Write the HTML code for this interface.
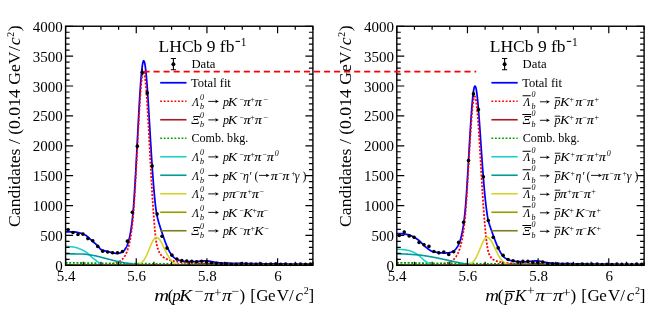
<!DOCTYPE html><html><head><meta charset="utf-8"><style>html,body{margin:0;padding:0;background:#fff;overflow:hidden}svg{display:block;will-change:transform}text{font-family:"Liberation Serif",serif;font-variant-ligatures:none}</style></head><body>
<svg width="661" height="320" viewBox="0 0 661 320">
<rect width="661" height="320" fill="#fff"/>
<clipPath id="clip65"><rect x="65.6" y="26.25" width="247.31" height="239.05"/></clipPath>
<g clip-path="url(#clip65)" fill="none">
<path d="M65.6,231.76 L65.95,231.78 L66.31,231.81 L66.66,231.82 L67.01,231.83 L67.37,231.84 L67.72,231.84 L68.07,231.85 L68.43,231.85 L68.78,231.85 L69.13,231.85 L69.49,231.85 L69.84,231.85 L70.19,231.85 L70.55,231.85 L70.9,231.86 L71.25,231.86 L71.61,231.86 L71.96,231.86 L72.31,231.86 L72.67,231.87 L73.02,231.87 L73.37,231.88 L73.73,231.89 L74.08,231.9 L74.43,231.92 L74.79,231.95 L75.14,231.99 L75.49,232.04 L75.85,232.1 L76.2,232.16 L76.55,232.23 L76.91,232.3 L77.26,232.37 L77.61,232.46 L77.97,232.54 L78.32,232.63 L78.67,232.71 L79.03,232.8 L79.38,232.89 L79.73,232.98 L80.09,233.07 L80.44,233.16 L80.79,233.26 L81.15,233.37 L81.5,233.47 L81.85,233.59 L82.21,233.71 L82.56,233.83 L82.91,233.97 L83.26,234.11 L83.62,234.26 L83.97,234.43 L84.32,234.59 L84.68,234.77 L85.03,234.96 L85.38,235.15 L85.74,235.36 L86.09,235.57 L86.44,235.8 L86.8,236.06 L87.15,236.33 L87.5,236.62 L87.86,236.92 L88.21,237.24 L88.56,237.56 L88.92,237.9 L89.27,238.24 L89.62,238.58 L89.98,238.93 L90.33,239.28 L90.68,239.62 L91.04,239.96 L91.39,240.29 L91.74,240.62 L92.1,240.93 L92.45,241.24 L92.8,241.54 L93.16,241.84 L93.51,242.14 L93.86,242.43 L94.22,242.73 L94.57,243.02 L94.92,243.32 L95.28,243.62 L95.63,243.93 L95.98,244.24 L96.34,244.55 L96.69,244.87 L97.04,245.2 L97.4,245.53 L97.75,245.87 L98.1,246.22 L98.46,246.59 L98.81,247.02 L99.16,247.47 L99.52,247.94 L99.87,248.4 L100.22,248.83 L100.58,249.23 L100.93,249.56 L101.28,249.81 L101.64,249.96 L101.99,250.06 L102.34,250.16 L102.7,250.25 L103.05,250.35 L103.4,250.45 L103.76,250.55 L104.11,250.64 L104.46,250.74 L104.82,250.84 L105.17,250.93 L105.52,251.02 L105.88,251.12 L106.23,251.21 L106.58,251.3 L106.94,251.39 L107.29,251.48 L107.64,251.57 L108,251.66 L108.35,251.75 L108.7,251.84 L109.06,251.93 L109.41,252.03 L109.76,252.12 L110.12,252.21 L110.47,252.29 L110.82,252.38 L111.18,252.47 L111.53,252.55 L111.88,252.63 L112.24,252.71 L112.59,252.79 L112.94,252.86 L113.3,252.94 L113.65,253 L114,253.06 L114.36,253.12 L114.71,253.17 L115.06,253.22 L115.42,253.26 L115.77,253.3 L116.12,253.32 L116.48,253.34 L116.83,253.35 L117.18,253.36 L117.54,253.35 L117.89,253.33 L118.24,253.3 L118.59,253.26 L118.95,253.21 L119.3,253.15 L119.65,253.07 L120.01,252.98 L120.36,252.87 L120.71,252.75 L121.07,252.61 L121.42,252.45 L121.77,252.27 L122.13,252.06 L122.48,251.84 L122.83,251.58 L123.19,251.3 L123.54,250.99 L123.89,250.64 L124.25,250.26 L124.6,249.84 L124.95,249.38 L125.31,248.87 L125.66,248.32 L126.01,247.71 L126.37,247.04 L126.72,246.31 L127.07,245.51 L127.43,244.63 L127.78,243.67 L128.13,242.63 L128.49,241.48 L128.84,240.23 L129.19,238.86 L129.55,237.37 L129.9,235.73 L130.25,233.94 L130.61,231.98 L130.96,229.84 L131.31,227.5 L131.67,224.93 L132.02,222.11 L132.37,219.02 L132.73,215.64 L133.08,211.91 L133.43,207.83 L133.79,203.33 L134.14,198.38 L134.49,192.93 L134.85,187.17 L135.2,181.17 L135.55,174.95 L135.91,168.55 L136.26,161.98 L136.61,155.29 L136.97,148.5 L137.32,141.66 L137.67,134.82 L138.03,128 L138.38,121.27 L138.73,114.67 L139.09,108.25 L139.44,102.05 L139.79,96.13 L140.15,90.54 L140.5,85.31 L140.85,80.5 L141.21,76.14 L141.56,72.27 L141.91,68.92 L142.27,66.13 L142.62,63.9 L142.97,62.27 L143.33,61.24 L143.68,60.82 L144.03,61.01 L144.39,61.79 L144.74,63.17 L145.09,65.11 L145.45,67.6 L145.8,70.6 L146.15,74.09 L146.51,78.03 L146.86,82.37 L147.21,87.07 L147.57,92.1 L147.92,97.39 L148.27,102.91 L148.63,108.61 L148.98,114.44 L149.33,120.36 L149.69,126.32 L150.04,132.28 L150.39,138.21 L150.75,144.06 L151.1,149.82 L151.45,155.44 L151.81,160.91 L152.16,166.2 L152.51,171.3 L152.87,176.2 L153.22,180.88 L153.57,185.34 L153.93,189.57 L154.28,193.58 L154.63,197.37 L154.98,200.94 L155.34,204.29 L155.69,207.43 L156.04,210.12 L156.4,212.4 L156.75,214.37 L157.1,216.11 L157.46,217.67 L157.81,219.11 L158.16,220.45 L158.52,221.72 L158.87,222.93 L159.22,224.1 L159.58,225.24 L159.93,226.36 L160.28,227.46 L160.64,228.55 L160.99,229.63 L161.34,230.7 L161.7,231.77 L162.05,232.82 L162.4,233.88 L162.76,234.92 L163.11,235.96 L163.46,236.99 L163.82,238 L164.17,239.01 L164.52,240 L164.88,240.97 L165.23,241.93 L165.58,242.87 L165.94,243.79 L166.29,244.69 L166.64,245.56 L167,246.41 L167.35,247.23 L167.7,248.03 L168.06,248.8 L168.41,249.54 L168.76,250.25 L169.12,250.94 L169.47,251.59 L169.82,252.22 L170.18,252.81 L170.53,253.38 L170.88,253.92 L171.24,254.43 L171.59,254.91 L171.94,255.37 L172.3,255.8 L172.65,256.2 L173,256.58 L173.36,256.94 L173.71,257.27 L174.06,257.58 L174.42,257.87 L174.77,258.14 L175.12,258.4 L175.48,258.63 L175.83,258.85 L176.18,259.06 L176.54,259.25 L176.89,259.42 L177.24,259.58 L177.6,259.74 L177.95,259.88 L178.3,260.01 L178.66,260.13 L179.01,260.24 L179.36,260.34 L179.72,260.44 L180.07,260.53 L180.42,260.61 L180.78,260.69 L181.13,260.76 L181.48,260.83 L181.84,260.9 L182.19,260.96 L182.54,261.01 L182.9,261.06 L183.25,261.12 L183.6,261.16 L183.96,261.21 L184.31,261.25 L184.66,261.29 L185.02,261.33 L185.37,261.36 L185.72,261.4 L186.08,261.43 L186.43,261.46 L186.78,261.49 L187.14,261.52 L187.49,261.55 L187.84,261.57 L188.2,261.6 L188.55,261.62 L188.9,261.64 L189.25,261.66 L189.61,261.68 L189.96,261.69 L190.31,261.71 L190.67,261.72 L191.02,261.73 L191.37,261.73 L191.73,261.74 L192.08,261.74 L192.43,261.74 L192.79,261.74 L193.14,261.74 L193.49,261.73 L193.85,261.72 L194.2,261.71 L194.55,261.7 L194.91,261.68 L195.26,261.66 L195.61,261.63 L195.97,261.61 L196.32,261.58 L196.67,261.55 L197.03,261.52 L197.38,261.48 L197.73,261.44 L198.09,261.4 L198.44,261.36 L198.79,261.32 L199.15,261.28 L199.5,261.23 L199.85,261.19 L200.21,261.15 L200.56,261.1 L200.91,261.06 L201.27,261.02 L201.62,260.98 L201.97,260.94 L202.33,260.91 L202.68,260.88 L203.03,260.85 L203.39,260.83 L203.74,260.81 L204.09,260.79 L204.45,260.78 L204.8,260.78 L205.15,260.78 L205.51,260.78 L205.86,260.79 L206.21,260.81 L206.57,260.83 L206.92,260.86 L207.27,260.89 L207.63,260.93 L207.98,260.97 L208.33,261.01 L208.69,261.06 L209.04,261.12 L209.39,261.18 L209.75,261.24 L210.1,261.3 L210.45,261.37 L210.81,261.43 L211.16,261.5 L211.51,261.57 L211.87,261.65 L212.22,261.72 L212.57,261.79 L212.93,261.86 L213.28,261.93 L213.63,262 L213.99,262.06 L214.34,262.13 L214.69,262.19 L215.05,262.26 L215.4,262.32 L215.75,262.37 L216.11,262.43 L216.46,262.48 L216.81,262.53 L217.17,262.58 L217.52,262.62 L217.87,262.67 L218.23,262.71 L218.58,262.74 L218.93,262.78 L219.29,262.81 L219.64,262.84 L219.99,262.87 L220.35,262.9 L220.7,262.92 L221.05,262.94 L221.41,262.97 L221.76,262.99 L222.11,263.01 L222.47,263.02 L222.82,263.04 L223.17,263.06 L223.53,263.07 L223.88,263.08 L224.23,263.1 L224.58,263.11 L224.94,263.12 L225.29,263.13 L225.64,263.14 L226,263.15 L226.35,263.16 L226.7,263.17 L227.06,263.18 L227.41,263.19 L227.76,263.2 L228.12,263.21 L228.47,263.21 L228.82,263.22 L229.18,263.23 L229.53,263.24 L229.88,263.24 L230.24,263.25 L230.59,263.26 L230.94,263.27 L231.3,263.27 L231.65,263.28 L232,263.29 L232.36,263.3 L232.71,263.3 L233.06,263.31 L233.42,263.32 L233.77,263.32 L234.12,263.33 L234.48,263.34 L234.83,263.34 L235.18,263.35 L235.54,263.36 L235.89,263.36 L236.24,263.37 L236.6,263.37 L236.95,263.38 L237.3,263.39 L237.66,263.39 L238.01,263.4 L238.36,263.41 L238.72,263.41 L239.07,263.42 L239.42,263.42 L239.78,263.43 L240.13,263.44 L240.48,263.44 L240.84,263.45 L241.19,263.45 L241.54,263.46 L241.9,263.46 L242.25,263.47 L242.6,263.48 L242.96,263.48 L243.31,263.49 L243.66,263.49 L244.02,263.5 L244.37,263.5 L244.72,263.51 L245.08,263.51 L245.43,263.52 L245.78,263.53 L246.14,263.53 L246.49,263.54 L246.84,263.54 L247.2,263.55 L247.55,263.55 L247.9,263.56 L248.26,263.56 L248.61,263.57 L248.96,263.57 L249.32,263.58 L249.67,263.58 L250.02,263.59 L250.38,263.59 L250.73,263.6 L251.08,263.6 L251.44,263.61 L251.79,263.61 L252.14,263.62 L252.5,263.62 L252.85,263.63 L253.2,263.63 L253.56,263.64 L253.91,263.64 L254.26,263.65 L254.62,263.65 L254.97,263.66 L255.32,263.66 L255.68,263.67 L256.03,263.67 L256.38,263.67 L256.74,263.68 L257.09,263.68 L257.44,263.69 L257.8,263.69 L258.15,263.7 L258.5,263.7 L258.86,263.71 L259.21,263.71 L259.56,263.71 L259.91,263.72 L260.27,263.72 L260.62,263.73 L260.97,263.73 L261.33,263.74 L261.68,263.74 L262.03,263.74 L262.39,263.75 L262.74,263.75 L263.09,263.76 L263.45,263.76 L263.8,263.77 L264.15,263.77 L264.51,263.77 L264.86,263.78 L265.21,263.78 L265.57,263.79 L265.92,263.79 L266.27,263.79 L266.63,263.8 L266.98,263.8 L267.33,263.81 L267.69,263.81 L268.04,263.81 L268.39,263.82 L268.75,263.82 L269.1,263.83 L269.45,263.83 L269.81,263.83 L270.16,263.84 L270.51,263.84 L270.87,263.84 L271.22,263.85 L271.57,263.85 L271.93,263.86 L272.28,263.86 L272.63,263.86 L272.99,263.87 L273.34,263.87 L273.69,263.87 L274.05,263.88 L274.4,263.88 L274.75,263.88 L275.11,263.89 L275.46,263.89 L275.81,263.9 L276.17,263.9 L276.52,263.9 L276.87,263.91 L277.23,263.91 L277.58,263.91 L277.93,263.92 L278.29,263.92 L278.64,263.92 L278.99,263.93 L279.35,263.93 L279.7,263.93 L280.05,263.94 L280.41,263.94 L280.76,263.94 L281.11,263.95 L281.47,263.95 L281.82,263.95 L282.17,263.96 L282.53,263.96 L282.88,263.96 L283.23,263.97 L283.59,263.97 L283.94,263.97 L284.29,263.98 L284.65,263.98 L285,263.98 L285.35,263.99 L285.71,263.99 L286.06,263.99 L286.41,264 L286.77,264 L287.12,264 L287.47,264 L287.83,264.01 L288.18,264.01 L288.53,264.01 L288.89,264.02 L289.24,264.02 L289.59,264.02 L289.95,264.03 L290.3,264.03 L290.65,264.03 L291.01,264.04 L291.36,264.04 L291.71,264.04 L292.07,264.04 L292.42,264.05 L292.77,264.05 L293.13,264.05 L293.48,264.06 L293.83,264.06 L294.19,264.06 L294.54,264.06 L294.89,264.07 L295.24,264.07 L295.6,264.07 L295.95,264.08 L296.3,264.08 L296.66,264.08 L297.01,264.08 L297.36,264.09 L297.72,264.09 L298.07,264.09 L298.42,264.1 L298.78,264.1 L299.13,264.1 L299.48,264.1 L299.84,264.11 L300.19,264.11 L300.54,264.11 L300.9,264.11 L301.25,264.12 L301.6,264.12 L301.96,264.12 L302.31,264.13 L302.66,264.13 L303.02,264.13 L303.37,264.13 L303.72,264.14 L304.08,264.14 L304.43,264.14 L304.78,264.14 L305.14,264.15 L305.49,264.15 L305.84,264.15 L306.2,264.15 L306.55,264.16 L306.9,264.16 L307.26,264.16 L307.61,264.16 L307.96,264.17 L308.32,264.17 L308.67,264.17 L309.02,264.17 L309.38,264.18 L309.73,264.18 L310.08,264.18 L310.44,264.18 L310.79,264.19 L311.14,264.19 L311.5,264.19 L311.85,264.19 L312.2,264.2 L312.56,264.2 L312.91,264.2" stroke="#0000ff" stroke-width="1.75"/>
<path d="M65.6,265.28 L65.95,265.28 L66.31,265.28 L66.66,265.28 L67.01,265.28 L67.37,265.28 L67.72,265.28 L68.07,265.28 L68.43,265.28 L68.78,265.28 L69.13,265.28 L69.49,265.28 L69.84,265.28 L70.19,265.28 L70.55,265.28 L70.9,265.28 L71.25,265.27 L71.61,265.27 L71.96,265.27 L72.31,265.27 L72.67,265.27 L73.02,265.27 L73.37,265.27 L73.73,265.27 L74.08,265.27 L74.43,265.27 L74.79,265.27 L75.14,265.27 L75.49,265.26 L75.85,265.26 L76.2,265.26 L76.55,265.26 L76.91,265.26 L77.26,265.26 L77.61,265.26 L77.97,265.26 L78.32,265.26 L78.67,265.26 L79.03,265.25 L79.38,265.25 L79.73,265.25 L80.09,265.25 L80.44,265.25 L80.79,265.25 L81.15,265.25 L81.5,265.24 L81.85,265.24 L82.21,265.24 L82.56,265.24 L82.91,265.24 L83.26,265.23 L83.62,265.23 L83.97,265.23 L84.32,265.23 L84.68,265.23 L85.03,265.22 L85.38,265.22 L85.74,265.22 L86.09,265.22 L86.44,265.21 L86.8,265.21 L87.15,265.21 L87.5,265.21 L87.86,265.2 L88.21,265.2 L88.56,265.2 L88.92,265.19 L89.27,265.19 L89.62,265.19 L89.98,265.18 L90.33,265.18 L90.68,265.17 L91.04,265.17 L91.39,265.17 L91.74,265.16 L92.1,265.16 L92.45,265.15 L92.8,265.15 L93.16,265.14 L93.51,265.14 L93.86,265.13 L94.22,265.12 L94.57,265.12 L94.92,265.11 L95.28,265.1 L95.63,265.1 L95.98,265.09 L96.34,265.08 L96.69,265.07 L97.04,265.07 L97.4,265.06 L97.75,265.05 L98.1,265.04 L98.46,265.03 L98.81,265.02 L99.16,265.01 L99.52,265 L99.87,264.99 L100.22,264.97 L100.58,264.96 L100.93,264.95 L101.28,264.93 L101.64,264.92 L101.99,264.9 L102.34,264.89 L102.7,264.87 L103.05,264.86 L103.4,264.84 L103.76,264.82 L104.11,264.8 L104.46,264.78 L104.82,264.76 L105.17,264.73 L105.52,264.71 L105.88,264.68 L106.23,264.66 L106.58,264.63 L106.94,264.6 L107.29,264.57 L107.64,264.54 L108,264.51 L108.35,264.47 L108.7,264.43 L109.06,264.4 L109.41,264.35 L109.76,264.31 L110.12,264.27 L110.47,264.22 L110.82,264.17 L111.18,264.11 L111.53,264.06 L111.88,264 L112.24,263.94 L112.59,263.87 L112.94,263.8 L113.3,263.73 L113.65,263.65 L114,263.57 L114.36,263.48 L114.71,263.39 L115.06,263.3 L115.42,263.19 L115.77,263.08 L116.12,262.97 L116.48,262.85 L116.83,262.72 L117.18,262.58 L117.54,262.43 L117.89,262.28 L118.24,262.12 L118.59,261.94 L118.95,261.75 L119.3,261.56 L119.65,261.35 L120.01,261.12 L120.36,260.88 L120.71,260.63 L121.07,260.35 L121.42,260.06 L121.77,259.75 L122.13,259.42 L122.48,259.06 L122.83,258.68 L123.19,258.28 L123.54,257.84 L123.89,257.37 L124.25,256.87 L124.6,256.33 L124.95,255.76 L125.31,255.14 L125.66,254.47 L126.01,253.75 L126.37,252.97 L126.72,252.14 L127.07,251.24 L127.43,250.26 L127.78,249.21 L128.13,248.08 L128.49,246.85 L128.84,245.51 L129.19,244.07 L129.55,242.5 L129.9,240.8 L130.25,238.96 L130.61,236.95 L130.96,234.76 L131.31,232.37 L131.67,229.77 L132.02,226.93 L132.37,223.83 L132.73,220.43 L133.08,216.71 L133.43,212.63 L133.79,208.16 L134.14,203.23 L134.49,197.83 L134.85,192.12 L135.2,186.18 L135.55,180.04 L135.91,173.72 L136.26,167.25 L136.61,160.67 L136.97,154.01 L137.32,147.31 L137.67,140.62 L138.03,133.97 L138.38,127.42 L138.73,121.02 L139.09,114.81 L139.44,108.84 L139.79,103.17 L140.15,97.84 L140.5,92.9 L140.85,88.38 L141.21,84.35 L141.56,80.82 L141.91,77.83 L142.27,75.42 L142.62,73.6 L142.97,72.4 L143.33,71.82 L143.68,71.87 L144.03,72.55 L144.39,73.85 L144.74,75.77 L145.09,78.27 L145.45,81.35 L145.8,84.96 L146.15,89.08 L146.51,93.66 L146.86,98.67 L147.21,104.06 L147.57,109.78 L147.92,115.79 L148.27,122.03 L148.63,128.46 L148.98,135.03 L149.33,141.69 L149.69,148.38 L150.04,155.08 L150.39,161.73 L150.75,168.3 L151.1,174.74 L151.45,181.03 L151.81,187.14 L152.16,193.05 L152.51,198.72 L152.87,204.15 L153.22,209.32 L153.57,214.22 L153.93,218.84 L154.28,223.18 L154.63,227.24 L154.98,231.02 L155.34,234.53 L155.69,237.75 L156.04,240.46 L156.4,242.68 L156.75,244.54 L157.1,246.12 L157.46,247.47 L157.81,248.65 L158.16,249.68 L158.52,250.59 L158.87,251.41 L159.22,252.13 L159.58,252.79 L159.93,253.38 L160.28,253.92 L160.64,254.42 L160.99,254.87 L161.34,255.29 L161.7,255.67 L162.05,256.03 L162.4,256.36 L162.76,256.67 L163.11,256.95 L163.46,257.22 L163.82,257.48 L164.17,257.71 L164.52,257.94 L164.88,258.15 L165.23,258.35 L165.58,258.53 L165.94,258.71 L166.29,258.88 L166.64,259.04 L167,259.2 L167.35,259.34 L167.7,259.48 L168.06,259.61 L168.41,259.74 L168.76,259.86 L169.12,259.98 L169.47,260.09 L169.82,260.2 L170.18,260.3 L170.53,260.4 L170.88,260.49 L171.24,260.58 L171.59,260.67 L171.94,260.76 L172.3,260.84 L172.65,260.92 L173,260.99 L173.36,261.06 L173.71,261.14 L174.06,261.2 L174.42,261.27 L174.77,261.34 L175.12,261.4 L175.48,261.46 L175.83,261.52 L176.18,261.57 L176.54,261.63 L176.89,261.68 L177.24,261.73 L177.6,261.78 L177.95,261.83 L178.3,261.88 L178.66,261.93 L179.01,261.97 L179.36,262.02 L179.72,262.06 L180.07,262.1 L180.42,262.14 L180.78,262.18 L181.13,262.22 L181.48,262.26 L181.84,262.3 L182.19,262.33 L182.54,262.37 L182.9,262.4 L183.25,262.43 L183.6,262.47 L183.96,262.5 L184.31,262.53 L184.66,262.56 L185.02,262.59 L185.37,262.62 L185.72,262.65 L186.08,262.68 L186.43,262.7 L186.78,262.73 L187.14,262.76 L187.49,262.78 L187.84,262.81 L188.2,262.83 L188.55,262.86 L188.9,262.88 L189.25,262.91 L189.61,262.93 L189.96,262.95 L190.31,262.97 L190.67,263 L191.02,263.02 L191.37,263.04 L191.73,263.06 L192.08,263.08 L192.43,263.1 L192.79,263.12 L193.14,263.14 L193.49,263.16 L193.85,263.17 L194.2,263.19 L194.55,263.21 L194.91,263.23 L195.26,263.24 L195.61,263.26 L195.97,263.28 L196.32,263.29 L196.67,263.31 L197.03,263.33 L197.38,263.34 L197.73,263.36 L198.09,263.37 L198.44,263.39 L198.79,263.4 L199.15,263.42 L199.5,263.43 L199.85,263.45 L200.21,263.46 L200.56,263.47 L200.91,263.49 L201.27,263.5 L201.62,263.51 L201.97,263.53 L202.33,263.54 L202.68,263.55 L203.03,263.56 L203.39,263.58 L203.74,263.59 L204.09,263.6 L204.45,263.61 L204.8,263.62 L205.15,263.63 L205.51,263.64 L205.86,263.66 L206.21,263.67 L206.57,263.68 L206.92,263.69 L207.27,263.7 L207.63,263.71 L207.98,263.72 L208.33,263.73 L208.69,263.74 L209.04,263.75 L209.39,263.76 L209.75,263.77 L210.1,263.78 L210.45,263.79 L210.81,263.8 L211.16,263.81 L211.51,263.81 L211.87,263.82 L212.22,263.83 L212.57,263.84 L212.93,263.85 L213.28,263.86 L213.63,263.87 L213.99,263.87 L214.34,263.88 L214.69,263.89 L215.05,263.9 L215.4,263.91 L215.75,263.91 L216.11,263.92 L216.46,263.93 L216.81,263.94 L217.17,263.95 L217.52,263.95 L217.87,263.96 L218.23,263.97 L218.58,263.97 L218.93,263.98 L219.29,263.99 L219.64,264 L219.99,264 L220.35,264.01 L220.7,264.02 L221.05,264.02 L221.41,264.03 L221.76,264.04 L222.11,264.04 L222.47,264.05 L222.82,264.06 L223.17,264.06 L223.53,264.07 L223.88,264.07 L224.23,264.08 L224.58,264.09 L224.94,264.09 L225.29,264.1 L225.64,264.1 L226,264.11 L226.35,264.12 L226.7,264.12 L227.06,264.13 L227.41,264.13 L227.76,264.14 L228.12,264.14 L228.47,264.15 L228.82,264.15 L229.18,264.16 L229.53,264.16 L229.88,264.17 L230.24,264.18 L230.59,264.18 L230.94,264.19 L231.3,264.19 L231.65,264.2 L232,264.2 L232.36,264.21 L232.71,264.21 L233.06,264.21 L233.42,264.22 L233.77,264.22 L234.12,264.23 L234.48,264.23 L234.83,264.24 L235.18,264.24 L235.54,264.25 L235.89,264.25 L236.24,264.26 L236.6,264.26 L236.95,264.27 L237.3,264.27 L237.66,264.27 L238.01,264.28 L238.36,264.28 L238.72,264.29 L239.07,264.29 L239.42,264.29 L239.78,264.3 L240.13,264.3 L240.48,264.31 L240.84,264.31 L241.19,264.32 L241.54,264.32 L241.9,264.32 L242.25,264.33 L242.6,264.33 L242.96,264.33 L243.31,264.34 L243.66,264.34 L244.02,264.35 L244.37,264.35 L244.72,264.35 L245.08,264.36 L245.43,264.36 L245.78,264.36 L246.14,264.37 L246.49,264.37 L246.84,264.37 L247.2,264.38 L247.55,264.38 L247.9,264.39 L248.26,264.39 L248.61,264.39 L248.96,264.4 L249.32,264.4 L249.67,264.4 L250.02,264.41 L250.38,264.41 L250.73,264.41 L251.08,264.41 L251.44,264.42 L251.79,264.42 L252.14,264.42 L252.5,264.43 L252.85,264.43 L253.2,264.43 L253.56,264.44 L253.91,264.44 L254.26,264.44 L254.62,264.45 L254.97,264.45 L255.32,264.45 L255.68,264.45 L256.03,264.46 L256.38,264.46 L256.74,264.46 L257.09,264.47 L257.44,264.47 L257.8,264.47 L258.15,264.47 L258.5,264.48 L258.86,264.48 L259.21,264.48 L259.56,264.49 L259.91,264.49 L260.27,264.49 L260.62,264.49 L260.97,264.5 L261.33,264.5 L261.68,264.5 L262.03,264.5 L262.39,264.51 L262.74,264.51 L263.09,264.51 L263.45,264.51 L263.8,264.52 L264.15,264.52 L264.51,264.52 L264.86,264.52 L265.21,264.53 L265.57,264.53 L265.92,264.53 L266.27,264.53 L266.63,264.54 L266.98,264.54 L267.33,264.54 L267.69,264.54 L268.04,264.55 L268.39,264.55 L268.75,264.55 L269.1,264.55 L269.45,264.56 L269.81,264.56 L270.16,264.56 L270.51,264.56 L270.87,264.56 L271.22,264.57 L271.57,264.57 L271.93,264.57 L272.28,264.57 L272.63,264.57 L272.99,264.58 L273.34,264.58 L273.69,264.58 L274.05,264.58 L274.4,264.59 L274.75,264.59 L275.11,264.59 L275.46,264.59 L275.81,264.59 L276.17,264.6 L276.52,264.6 L276.87,264.6 L277.23,264.6 L277.58,264.6 L277.93,264.61 L278.29,264.61 L278.64,264.61 L278.99,264.61 L279.35,264.61 L279.7,264.62 L280.05,264.62 L280.41,264.62 L280.76,264.62 L281.11,264.62 L281.47,264.63 L281.82,264.63 L282.17,264.63 L282.53,264.63 L282.88,264.63 L283.23,264.63 L283.59,264.64 L283.94,264.64 L284.29,264.64 L284.65,264.64 L285,264.64 L285.35,264.64 L285.71,264.65 L286.06,264.65 L286.41,264.65 L286.77,264.65 L287.12,264.65 L287.47,264.66 L287.83,264.66 L288.18,264.66 L288.53,264.66 L288.89,264.66 L289.24,264.66 L289.59,264.67 L289.95,264.67 L290.3,264.67 L290.65,264.67 L291.01,264.67 L291.36,264.67 L291.71,264.68 L292.07,264.68 L292.42,264.68 L292.77,264.68 L293.13,264.68 L293.48,264.68 L293.83,264.68 L294.19,264.69 L294.54,264.69 L294.89,264.69 L295.24,264.69 L295.6,264.69 L295.95,264.69 L296.3,264.7 L296.66,264.7 L297.01,264.7 L297.36,264.7 L297.72,264.7 L298.07,264.7 L298.42,264.7 L298.78,264.71 L299.13,264.71 L299.48,264.71 L299.84,264.71 L300.19,264.71 L300.54,264.71 L300.9,264.71 L301.25,264.72 L301.6,264.72 L301.96,264.72 L302.31,264.72 L302.66,264.72 L303.02,264.72 L303.37,264.72 L303.72,264.73 L304.08,264.73 L304.43,264.73 L304.78,264.73 L305.14,264.73 L305.49,264.73 L305.84,264.73 L306.2,264.73 L306.55,264.74 L306.9,264.74 L307.26,264.74 L307.61,264.74 L307.96,264.74 L308.32,264.74 L308.67,264.74 L309.02,264.74 L309.38,264.75 L309.73,264.75 L310.08,264.75 L310.44,264.75 L310.79,264.75 L311.14,264.75 L311.5,264.75 L311.85,264.75 L312.2,264.76 L312.56,264.76 L312.91,264.76" stroke="#ff0000" stroke-width="1.8" stroke-dasharray="2 1.6"/>
<path d="M187.49,265.27 L187.84,265.27 L188.2,265.26 L188.55,265.26 L188.9,265.25 L189.25,265.24 L189.61,265.23 L189.96,265.22 L190.31,265.21 L190.67,265.2 L191.02,265.18 L191.37,265.17 L191.73,265.15 L192.08,265.13 L192.43,265.11 L192.79,265.08 L193.14,265.06 L193.49,265.03 L193.85,265 L194.2,264.97 L194.55,264.93 L194.91,264.89 L195.26,264.85 L195.61,264.81 L195.97,264.77 L196.32,264.72 L196.67,264.67 L197.03,264.62 L197.38,264.56 L197.73,264.51 L198.09,264.45 L198.44,264.39 L198.79,264.33 L199.15,264.27 L199.5,264.21 L199.85,264.15 L200.21,264.09 L200.56,264.03 L200.91,263.98 L201.27,263.92 L201.62,263.86 L201.97,263.81 L202.33,263.76 L202.68,263.72 L203.03,263.68 L203.39,263.64 L203.74,263.6 L204.09,263.57 L204.45,263.55 L204.8,263.53 L205.15,263.52 L205.51,263.51 L205.86,263.51 L206.21,263.51 L206.57,263.52 L206.92,263.53 L207.27,263.55 L207.63,263.57 L207.98,263.6 L208.33,263.64 L208.69,263.68 L209.04,263.72 L209.39,263.76 L209.75,263.81 L210.1,263.86 L210.45,263.92 L210.81,263.98 L211.16,264.03 L211.51,264.09 L211.87,264.15 L212.22,264.21 L212.57,264.27 L212.93,264.33 L213.28,264.39 L213.63,264.45 L213.99,264.51 L214.34,264.56 L214.69,264.62 L215.05,264.67 L215.4,264.72 L215.75,264.77 L216.11,264.81 L216.46,264.85 L216.81,264.89 L217.17,264.93 L217.52,264.97 L217.87,265 L218.23,265.03 L218.58,265.06 L218.93,265.08 L219.29,265.11 L219.64,265.13 L219.99,265.15 L220.35,265.17 L220.7,265.18 L221.05,265.2 L221.41,265.21 L221.76,265.22 L222.11,265.23 L222.47,265.24 L222.82,265.25 L223.17,265.26 L223.53,265.26 L223.88,265.27 L224.23,265.27" stroke="#a81a20" stroke-width="1.6"/>
<path d="M65.6,262.79 L65.95,262.8 L66.31,262.8 L66.66,262.81 L67.01,262.81 L67.37,262.82 L67.72,262.82 L68.07,262.83 L68.43,262.83 L68.78,262.84 L69.13,262.84 L69.49,262.85 L69.84,262.85 L70.19,262.86 L70.55,262.86 L70.9,262.87 L71.25,262.87 L71.61,262.88 L71.96,262.89 L72.31,262.89 L72.67,262.9 L73.02,262.9 L73.37,262.91 L73.73,262.91 L74.08,262.92 L74.43,262.92 L74.79,262.93 L75.14,262.93 L75.49,262.94 L75.85,262.94 L76.2,262.95 L76.55,262.95 L76.91,262.96 L77.26,262.96 L77.61,262.97 L77.97,262.97 L78.32,262.98 L78.67,262.98 L79.03,262.99 L79.38,262.99 L79.73,263 L80.09,263 L80.44,263.01 L80.79,263.01 L81.15,263.02 L81.5,263.02 L81.85,263.03 L82.21,263.03 L82.56,263.04 L82.91,263.04 L83.26,263.05 L83.62,263.05 L83.97,263.06 L84.32,263.06 L84.68,263.07 L85.03,263.07 L85.38,263.07 L85.74,263.08 L86.09,263.08 L86.44,263.09 L86.8,263.09 L87.15,263.1 L87.5,263.1 L87.86,263.11 L88.21,263.11 L88.56,263.12 L88.92,263.12 L89.27,263.13 L89.62,263.13 L89.98,263.14 L90.33,263.14 L90.68,263.15 L91.04,263.15 L91.39,263.15 L91.74,263.16 L92.1,263.16 L92.45,263.17 L92.8,263.17 L93.16,263.18 L93.51,263.18 L93.86,263.19 L94.22,263.19 L94.57,263.2 L94.92,263.2 L95.28,263.2 L95.63,263.21 L95.98,263.21 L96.34,263.22 L96.69,263.22 L97.04,263.23 L97.4,263.23 L97.75,263.24 L98.1,263.24 L98.46,263.24 L98.81,263.25 L99.16,263.25 L99.52,263.26 L99.87,263.26 L100.22,263.27 L100.58,263.27 L100.93,263.28 L101.28,263.28 L101.64,263.28 L101.99,263.29 L102.34,263.29 L102.7,263.3 L103.05,263.3 L103.4,263.31 L103.76,263.31 L104.11,263.31 L104.46,263.32 L104.82,263.32 L105.17,263.33 L105.52,263.33 L105.88,263.34 L106.23,263.34 L106.58,263.34 L106.94,263.35 L107.29,263.35 L107.64,263.36 L108,263.36 L108.35,263.36 L108.7,263.37 L109.06,263.37 L109.41,263.38 L109.76,263.38 L110.12,263.39 L110.47,263.39 L110.82,263.39 L111.18,263.4 L111.53,263.4 L111.88,263.41 L112.24,263.41 L112.59,263.41 L112.94,263.42 L113.3,263.42 L113.65,263.43 L114,263.43 L114.36,263.43 L114.71,263.44 L115.06,263.44 L115.42,263.45 L115.77,263.45 L116.12,263.45 L116.48,263.46 L116.83,263.46 L117.18,263.47 L117.54,263.47 L117.89,263.47 L118.24,263.48 L118.59,263.48 L118.95,263.49 L119.3,263.49 L119.65,263.49 L120.01,263.5 L120.36,263.5 L120.71,263.51 L121.07,263.51 L121.42,263.51 L121.77,263.52 L122.13,263.52 L122.48,263.52 L122.83,263.53 L123.19,263.53 L123.54,263.54 L123.89,263.54 L124.25,263.54 L124.6,263.55 L124.95,263.55 L125.31,263.55 L125.66,263.56 L126.01,263.56 L126.37,263.57 L126.72,263.57 L127.07,263.57 L127.43,263.58 L127.78,263.58 L128.13,263.58 L128.49,263.59 L128.84,263.59 L129.19,263.6 L129.55,263.6 L129.9,263.6 L130.25,263.61 L130.61,263.61 L130.96,263.61 L131.31,263.62 L131.67,263.62 L132.02,263.62 L132.37,263.63 L132.73,263.63 L133.08,263.64 L133.43,263.64 L133.79,263.64 L134.14,263.65 L134.49,263.65 L134.85,263.65 L135.2,263.66 L135.55,263.66 L135.91,263.66 L136.26,263.67 L136.61,263.67 L136.97,263.67 L137.32,263.68 L137.67,263.68 L138.03,263.68 L138.38,263.69 L138.73,263.69 L139.09,263.7 L139.44,263.7 L139.79,263.7 L140.15,263.71 L140.5,263.71 L140.85,263.71 L141.21,263.72 L141.56,263.72 L141.91,263.72 L142.27,263.73 L142.62,263.73 L142.97,263.73 L143.33,263.74 L143.68,263.74 L144.03,263.74 L144.39,263.75 L144.74,263.75 L145.09,263.75 L145.45,263.76 L145.8,263.76 L146.15,263.76 L146.51,263.77 L146.86,263.77 L147.21,263.77 L147.57,263.78 L147.92,263.78 L148.27,263.78 L148.63,263.79 L148.98,263.79 L149.33,263.79 L149.69,263.8 L150.04,263.8 L150.39,263.8 L150.75,263.8 L151.1,263.81 L151.45,263.81 L151.81,263.81 L152.16,263.82 L152.51,263.82 L152.87,263.82 L153.22,263.83 L153.57,263.83 L153.93,263.83 L154.28,263.84 L154.63,263.84 L154.98,263.84 L155.34,263.85 L155.69,263.85 L156.04,263.85 L156.4,263.86 L156.75,263.86 L157.1,263.86 L157.46,263.86 L157.81,263.87 L158.16,263.87 L158.52,263.87 L158.87,263.88 L159.22,263.88 L159.58,263.88 L159.93,263.89 L160.28,263.89 L160.64,263.89 L160.99,263.9 L161.34,263.9 L161.7,263.9 L162.05,263.9 L162.4,263.91 L162.76,263.91 L163.11,263.91 L163.46,263.92 L163.82,263.92 L164.17,263.92 L164.52,263.93 L164.88,263.93 L165.23,263.93 L165.58,263.93 L165.94,263.94 L166.29,263.94 L166.64,263.94 L167,263.95 L167.35,263.95 L167.7,263.95 L168.06,263.95 L168.41,263.96 L168.76,263.96 L169.12,263.96 L169.47,263.97 L169.82,263.97 L170.18,263.97 L170.53,263.97 L170.88,263.98 L171.24,263.98 L171.59,263.98 L171.94,263.99 L172.3,263.99 L172.65,263.99 L173,263.99 L173.36,264 L173.71,264 L174.06,264 L174.42,264.01 L174.77,264.01 L175.12,264.01 L175.48,264.01 L175.83,264.02 L176.18,264.02 L176.54,264.02 L176.89,264.02 L177.24,264.03 L177.6,264.03 L177.95,264.03 L178.3,264.04 L178.66,264.04 L179.01,264.04 L179.36,264.04 L179.72,264.05 L180.07,264.05 L180.42,264.05 L180.78,264.05 L181.13,264.06 L181.48,264.06 L181.84,264.06 L182.19,264.07 L182.54,264.07 L182.9,264.07 L183.25,264.07 L183.6,264.08 L183.96,264.08 L184.31,264.08 L184.66,264.08 L185.02,264.09 L185.37,264.09 L185.72,264.09 L186.08,264.09 L186.43,264.1 L186.78,264.1 L187.14,264.1 L187.49,264.1 L187.84,264.11 L188.2,264.11 L188.55,264.11 L188.9,264.11 L189.25,264.12 L189.61,264.12 L189.96,264.12 L190.31,264.12 L190.67,264.13 L191.02,264.13 L191.37,264.13 L191.73,264.13 L192.08,264.14 L192.43,264.14 L192.79,264.14 L193.14,264.14 L193.49,264.15 L193.85,264.15 L194.2,264.15 L194.55,264.15 L194.91,264.16 L195.26,264.16 L195.61,264.16 L195.97,264.16 L196.32,264.17 L196.67,264.17 L197.03,264.17 L197.38,264.17 L197.73,264.18 L198.09,264.18 L198.44,264.18 L198.79,264.18 L199.15,264.19 L199.5,264.19 L199.85,264.19 L200.21,264.19 L200.56,264.2 L200.91,264.2 L201.27,264.2 L201.62,264.2 L201.97,264.21 L202.33,264.21 L202.68,264.21 L203.03,264.21 L203.39,264.21 L203.74,264.22 L204.09,264.22 L204.45,264.22 L204.8,264.22 L205.15,264.23 L205.51,264.23 L205.86,264.23 L206.21,264.23 L206.57,264.24 L206.92,264.24 L207.27,264.24 L207.63,264.24 L207.98,264.24 L208.33,264.25 L208.69,264.25 L209.04,264.25 L209.39,264.25 L209.75,264.26 L210.1,264.26 L210.45,264.26 L210.81,264.26 L211.16,264.26 L211.51,264.27 L211.87,264.27 L212.22,264.27 L212.57,264.27 L212.93,264.28 L213.28,264.28 L213.63,264.28 L213.99,264.28 L214.34,264.28 L214.69,264.29 L215.05,264.29 L215.4,264.29 L215.75,264.29 L216.11,264.3 L216.46,264.3 L216.81,264.3 L217.17,264.3 L217.52,264.3 L217.87,264.31 L218.23,264.31 L218.58,264.31 L218.93,264.31 L219.29,264.31 L219.64,264.32 L219.99,264.32 L220.35,264.32 L220.7,264.32 L221.05,264.33 L221.41,264.33 L221.76,264.33 L222.11,264.33 L222.47,264.33 L222.82,264.34 L223.17,264.34 L223.53,264.34 L223.88,264.34 L224.23,264.34 L224.58,264.35 L224.94,264.35 L225.29,264.35 L225.64,264.35 L226,264.35 L226.35,264.36 L226.7,264.36 L227.06,264.36 L227.41,264.36 L227.76,264.36 L228.12,264.37 L228.47,264.37 L228.82,264.37 L229.18,264.37 L229.53,264.37 L229.88,264.38 L230.24,264.38 L230.59,264.38 L230.94,264.38 L231.3,264.38 L231.65,264.39 L232,264.39 L232.36,264.39 L232.71,264.39 L233.06,264.39 L233.42,264.4 L233.77,264.4 L234.12,264.4 L234.48,264.4 L234.83,264.4 L235.18,264.41 L235.54,264.41 L235.89,264.41 L236.24,264.41 L236.6,264.41 L236.95,264.42 L237.3,264.42 L237.66,264.42 L238.01,264.42 L238.36,264.42 L238.72,264.42 L239.07,264.43 L239.42,264.43 L239.78,264.43 L240.13,264.43 L240.48,264.43 L240.84,264.44 L241.19,264.44 L241.54,264.44 L241.9,264.44 L242.25,264.44 L242.6,264.45 L242.96,264.45 L243.31,264.45 L243.66,264.45 L244.02,264.45 L244.37,264.45 L244.72,264.46 L245.08,264.46 L245.43,264.46 L245.78,264.46 L246.14,264.46 L246.49,264.47 L246.84,264.47 L247.2,264.47 L247.55,264.47 L247.9,264.47 L248.26,264.47 L248.61,264.48 L248.96,264.48 L249.32,264.48 L249.67,264.48 L250.02,264.48 L250.38,264.48 L250.73,264.49 L251.08,264.49 L251.44,264.49 L251.79,264.49 L252.14,264.49 L252.5,264.5 L252.85,264.5 L253.2,264.5 L253.56,264.5 L253.91,264.5 L254.26,264.5 L254.62,264.51 L254.97,264.51 L255.32,264.51 L255.68,264.51 L256.03,264.51 L256.38,264.51 L256.74,264.52 L257.09,264.52 L257.44,264.52 L257.8,264.52 L258.15,264.52 L258.5,264.52 L258.86,264.53 L259.21,264.53 L259.56,264.53 L259.91,264.53 L260.27,264.53 L260.62,264.53 L260.97,264.54 L261.33,264.54 L261.68,264.54 L262.03,264.54 L262.39,264.54 L262.74,264.54 L263.09,264.55 L263.45,264.55 L263.8,264.55 L264.15,264.55 L264.51,264.55 L264.86,264.55 L265.21,264.56 L265.57,264.56 L265.92,264.56 L266.27,264.56 L266.63,264.56 L266.98,264.56 L267.33,264.56 L267.69,264.57 L268.04,264.57 L268.39,264.57 L268.75,264.57 L269.1,264.57 L269.45,264.57 L269.81,264.58 L270.16,264.58 L270.51,264.58 L270.87,264.58 L271.22,264.58 L271.57,264.58 L271.93,264.58 L272.28,264.59 L272.63,264.59 L272.99,264.59 L273.34,264.59 L273.69,264.59 L274.05,264.59 L274.4,264.6 L274.75,264.6 L275.11,264.6 L275.46,264.6 L275.81,264.6 L276.17,264.6 L276.52,264.6 L276.87,264.61 L277.23,264.61 L277.58,264.61 L277.93,264.61 L278.29,264.61 L278.64,264.61 L278.99,264.61 L279.35,264.62 L279.7,264.62 L280.05,264.62 L280.41,264.62 L280.76,264.62 L281.11,264.62 L281.47,264.63 L281.82,264.63 L282.17,264.63 L282.53,264.63 L282.88,264.63 L283.23,264.63 L283.59,264.63 L283.94,264.64 L284.29,264.64 L284.65,264.64 L285,264.64 L285.35,264.64 L285.71,264.64 L286.06,264.64 L286.41,264.65 L286.77,264.65 L287.12,264.65 L287.47,264.65 L287.83,264.65 L288.18,264.65 L288.53,264.65 L288.89,264.66 L289.24,264.66 L289.59,264.66 L289.95,264.66 L290.3,264.66 L290.65,264.66 L291.01,264.66 L291.36,264.66 L291.71,264.67 L292.07,264.67 L292.42,264.67 L292.77,264.67 L293.13,264.67 L293.48,264.67 L293.83,264.67 L294.19,264.68 L294.54,264.68 L294.89,264.68 L295.24,264.68 L295.6,264.68 L295.95,264.68 L296.3,264.68 L296.66,264.68 L297.01,264.69 L297.36,264.69 L297.72,264.69 L298.07,264.69 L298.42,264.69 L298.78,264.69 L299.13,264.69 L299.48,264.7 L299.84,264.7 L300.19,264.7 L300.54,264.7 L300.9,264.7 L301.25,264.7 L301.6,264.7 L301.96,264.7 L302.31,264.71 L302.66,264.71 L303.02,264.71 L303.37,264.71 L303.72,264.71 L304.08,264.71 L304.43,264.71 L304.78,264.71 L305.14,264.72 L305.49,264.72 L305.84,264.72 L306.2,264.72 L306.55,264.72 L306.9,264.72 L307.26,264.72 L307.61,264.72 L307.96,264.73 L308.32,264.73 L308.67,264.73 L309.02,264.73 L309.38,264.73 L309.73,264.73 L310.08,264.73 L310.44,264.73 L310.79,264.74 L311.14,264.74 L311.5,264.74 L311.85,264.74 L312.2,264.74 L312.56,264.74 L312.91,264.74" stroke="#00a000" stroke-width="1.8" stroke-dasharray="2 1.6"/>
<path d="M65.6,246.42 L65.95,246.43 L66.31,246.45 L66.66,246.47 L67.01,246.5 L67.37,246.52 L67.72,246.54 L68.07,246.56 L68.43,246.59 L68.78,246.61 L69.13,246.63 L69.49,246.66 L69.84,246.68 L70.19,246.71 L70.55,246.73 L70.9,246.76 L71.25,246.79 L71.61,246.82 L71.96,246.86 L72.31,246.89 L72.67,246.93 L73.02,246.97 L73.37,247.01 L73.73,247.06 L74.08,247.11 L74.43,247.17 L74.79,247.24 L75.14,247.32 L75.49,247.41 L75.85,247.5 L76.2,247.61 L76.55,247.72 L76.91,247.83 L77.26,247.96 L77.61,248.08 L77.97,248.21 L78.32,248.34 L78.67,248.48 L79.03,248.61 L79.38,248.75 L79.73,248.88 L80.09,249.02 L80.44,249.16 L80.79,249.31 L81.15,249.46 L81.5,249.61 L81.85,249.78 L82.21,249.94 L82.56,250.11 L82.91,250.29 L83.26,250.47 L83.62,250.66 L83.97,250.85 L84.32,251.05 L84.68,251.25 L85.03,251.46 L85.38,251.68 L85.74,251.9 L86.09,252.13 L86.44,252.37 L86.8,252.64 L87.15,252.92 L87.5,253.21 L87.86,253.52 L88.21,253.84 L88.56,254.16 L88.92,254.5 L89.27,254.83 L89.62,255.17 L89.98,255.51 L90.33,255.85 L90.68,256.18 L91.04,256.51 L91.39,256.83 L91.74,257.14 L92.1,257.44 L92.45,257.73 L92.8,258.02 L93.16,258.3 L93.51,258.58 L93.86,258.85 L94.22,259.13 L94.57,259.4 L94.92,259.67 L95.28,259.94 L95.63,260.21 L95.98,260.49 L96.34,260.76 L96.69,261.03 L97.04,261.31 L97.4,261.59 L97.75,261.88 L98.1,262.16 L98.46,262.48 L98.81,262.84 L99.16,263.22 L99.52,263.62 L99.87,264.01 L100.22,264.37 L100.58,264.69 L100.93,264.94 L101.28,265.11 L101.64,265.18 L101.99,265.19 L102.34,265.21 L102.7,265.22 L103.05,265.23 L103.4,265.24 L103.76,265.25 L104.11,265.26 L104.46,265.27 L104.82,265.27" stroke="#20d0d0" stroke-width="1.6"/>
<path d="M65.6,253.77 L65.95,253.79 L66.31,253.81 L66.66,253.83 L67.01,253.83 L67.37,253.84 L67.72,253.85 L68.07,253.86 L68.43,253.86 L68.78,253.87 L69.13,253.87 L69.49,253.88 L69.84,253.88 L70.19,253.89 L70.55,253.89 L70.9,253.89 L71.25,253.9 L71.61,253.9 L71.96,253.9 L72.31,253.91 L72.67,253.91 L73.02,253.91 L73.37,253.91 L73.73,253.91 L74.08,253.92 L74.43,253.92 L74.79,253.92 L75.14,253.92 L75.49,253.93 L75.85,253.93 L76.2,253.93 L76.55,253.93 L76.91,253.93 L77.26,253.94 L77.61,253.94 L77.97,253.94 L78.32,253.95 L78.67,253.95 L79.03,253.95 L79.38,253.96 L79.73,253.96 L80.09,253.97 L80.44,253.97 L80.79,253.98 L81.15,253.99 L81.5,253.99 L81.85,254 L82.21,254.01 L82.56,254.02 L82.91,254.03 L83.26,254.05 L83.62,254.07 L83.97,254.1 L84.32,254.13 L84.68,254.16 L85.03,254.19 L85.38,254.23 L85.74,254.27 L86.09,254.31 L86.44,254.35 L86.8,254.4 L87.15,254.44 L87.5,254.49 L87.86,254.54 L88.21,254.6 L88.56,254.65 L88.92,254.71 L89.27,254.76 L89.62,254.82 L89.98,254.88 L90.33,254.94 L90.68,255 L91.04,255.06 L91.39,255.13 L91.74,255.19 L92.1,255.25 L92.45,255.31 L92.8,255.38 L93.16,255.44 L93.51,255.5 L93.86,255.56 L94.22,255.62 L94.57,255.69 L94.92,255.75 L95.28,255.82 L95.63,255.89 L95.98,255.97 L96.34,256.04 L96.69,256.12 L97.04,256.2 L97.4,256.29 L97.75,256.37 L98.1,256.46 L98.46,256.54 L98.81,256.63 L99.16,256.72 L99.52,256.81 L99.87,256.91 L100.22,257 L100.58,257.1 L100.93,257.19 L101.28,257.29 L101.64,257.38 L101.99,257.48 L102.34,257.57 L102.7,257.67 L103.05,257.77 L103.4,257.86 L103.76,257.96 L104.11,258.05 L104.46,258.14 L104.82,258.24 L105.17,258.33 L105.52,258.42 L105.88,258.51 L106.23,258.6 L106.58,258.69 L106.94,258.77 L107.29,258.86 L107.64,258.95 L108,259.04 L108.35,259.13 L108.7,259.23 L109.06,259.32 L109.41,259.41 L109.76,259.5 L110.12,259.59 L110.47,259.69 L110.82,259.78 L111.18,259.87 L111.53,259.96 L111.88,260.05 L112.24,260.14 L112.59,260.23 L112.94,260.32 L113.3,260.41 L113.65,260.5 L114,260.59 L114.36,260.68 L114.71,260.77 L115.06,260.85 L115.42,260.94 L115.77,261.02 L116.12,261.1 L116.48,261.18 L116.83,261.26 L117.18,261.34 L117.54,261.42 L117.89,261.49 L118.24,261.57 L118.59,261.64 L118.95,261.71 L119.3,261.78 L119.65,261.85 L120.01,261.92 L120.36,261.99 L120.71,262.06 L121.07,262.13 L121.42,262.2 L121.77,262.27 L122.13,262.34 L122.48,262.4 L122.83,262.47 L123.19,262.54 L123.54,262.6 L123.89,262.67 L124.25,262.73 L124.6,262.79 L124.95,262.86 L125.31,262.92 L125.66,262.98 L126.01,263.04 L126.37,263.1 L126.72,263.15 L127.07,263.21 L127.43,263.26 L127.78,263.32 L128.13,263.37 L128.49,263.42 L128.84,263.47 L129.19,263.52 L129.55,263.57 L129.9,263.62 L130.25,263.66 L130.61,263.7 L130.96,263.75 L131.31,263.79 L131.67,263.83 L132.02,263.87 L132.37,263.91 L132.73,263.94 L133.08,263.98 L133.43,264.02 L133.79,264.05 L134.14,264.08 L134.49,264.12 L134.85,264.15 L135.2,264.18 L135.55,264.21 L135.91,264.24 L136.26,264.27 L136.61,264.29 L136.97,264.32 L137.32,264.35 L137.67,264.38 L138.03,264.41 L138.38,264.43 L138.73,264.46 L139.09,264.49 L139.44,264.52 L139.79,264.54 L140.15,264.57 L140.5,264.6 L140.85,264.63 L141.21,264.65 L141.56,264.68 L141.91,264.7 L142.27,264.73 L142.62,264.75 L142.97,264.78 L143.33,264.8 L143.68,264.83 L144.03,264.85 L144.39,264.87 L144.74,264.89 L145.09,264.91 L145.45,264.93 L145.8,264.95 L146.15,264.97 L146.51,264.99 L146.86,265.01 L147.21,265.02 L147.57,265.04 L147.92,265.05 L148.27,265.07 L148.63,265.08 L148.98,265.09 L149.33,265.1 L149.69,265.11 L150.04,265.11 L150.39,265.12 L150.75,265.13 L151.1,265.13 L151.45,265.14 L151.81,265.14 L152.16,265.15 L152.51,265.15 L152.87,265.16 L153.22,265.16 L153.57,265.17 L153.93,265.17 L154.28,265.18 L154.63,265.18 L154.98,265.19 L155.34,265.19 L155.69,265.2 L156.04,265.2 L156.4,265.2 L156.75,265.21 L157.1,265.21 L157.46,265.22 L157.81,265.22 L158.16,265.22 L158.52,265.23 L158.87,265.23 L159.22,265.24 L159.58,265.24 L159.93,265.24 L160.28,265.25 L160.64,265.25 L160.99,265.25 L161.34,265.25 L161.7,265.26 L162.05,265.26 L162.4,265.26 L162.76,265.27 L163.11,265.27 L163.46,265.27" stroke="#009a9a" stroke-width="1.6"/>
<path d="M65.6,265.3 L65.95,265.3 L66.31,265.3 L66.66,265.3 L67.01,265.3 L67.37,265.3 L67.72,265.3 L68.07,265.3 L68.43,265.3 L68.78,265.3 L69.13,265.3 L69.49,265.3 L69.84,265.3 L70.19,265.3 L70.55,265.3 L70.9,265.3 L71.25,265.3 L71.61,265.3 L71.96,265.3 L72.31,265.3 L72.67,265.3 L73.02,265.3 L73.37,265.3 L73.73,265.3 L74.08,265.3 L74.43,265.3 L74.79,265.3 L75.14,265.3 L75.49,265.3 L75.85,265.3 L76.2,265.3 L76.55,265.3 L76.91,265.3 L77.26,265.3 L77.61,265.3 L77.97,265.3 L78.32,265.3 L78.67,265.3 L79.03,265.3 L79.38,265.3 L79.73,265.3 L80.09,265.3 L80.44,265.3 L80.79,265.3 L81.15,265.3 L81.5,265.3 L81.85,265.3 L82.21,265.3 L82.56,265.3 L82.91,265.3 L83.26,265.3 L83.62,265.3 L83.97,265.3 L84.32,265.3 L84.68,265.3 L85.03,265.3 L85.38,265.3 L85.74,265.3 L86.09,265.3 L86.44,265.3 L86.8,265.3 L87.15,265.3 L87.5,265.3 L87.86,265.3 L88.21,265.3 L88.56,265.3 L88.92,265.3 L89.27,265.3 L89.62,265.3 L89.98,265.3 L90.33,265.3 L90.68,265.3 L91.04,265.3 L91.39,265.3 L91.74,265.3 L92.1,265.3 L92.45,265.3 L92.8,265.3 L93.16,265.3 L93.51,265.3 L93.86,265.3 L94.22,265.3 L94.57,265.3 L94.92,265.3 L95.28,265.3 L95.63,265.3 L95.98,265.3 L96.34,265.3 L96.69,265.3 L97.04,265.3 L97.4,265.3 L97.75,265.3 L98.1,265.3 L98.46,265.3 L98.81,265.3 L99.16,265.3 L99.52,265.3 L99.87,265.3 L100.22,265.3 L100.58,265.3 L100.93,265.3 L101.28,265.3 L101.64,265.3 L101.99,265.3 L102.34,265.3 L102.7,265.3 L103.05,265.3 L103.4,265.3 L103.76,265.3 L104.11,265.3 L104.46,265.3 L104.82,265.3 L105.17,265.3 L105.52,265.3 L105.88,265.3 L106.23,265.3 L106.58,265.3 L106.94,265.3 L107.29,265.3 L107.64,265.3 L108,265.3 L108.35,265.3 L108.7,265.3 L109.06,265.3 L109.41,265.3 L109.76,265.3 L110.12,265.3 L110.47,265.3 L110.82,265.3 L111.18,265.3 L111.53,265.3 L111.88,265.3 L112.24,265.3 L112.59,265.3 L112.94,265.3 L113.3,265.3 L113.65,265.3 L114,265.3 L114.36,265.3 L114.71,265.3 L115.06,265.3 L115.42,265.3 L115.77,265.3 L116.12,265.3 L116.48,265.3 L116.83,265.3 L117.18,265.3 L117.54,265.3 L117.89,265.3 L118.24,265.3 L118.59,265.3 L118.95,265.3 L119.3,265.3 L119.65,265.3 L120.01,265.3 L120.36,265.3 L120.71,265.3 L121.07,265.3 L121.42,265.3 L121.77,265.3 L122.13,265.3 L122.48,265.3 L122.83,265.3 L123.19,265.3 L123.54,265.3 L123.89,265.3 L124.25,265.3 L124.6,265.3 L124.95,265.3 L125.31,265.3 L125.66,265.3 L126.01,265.3 L126.37,265.3 L126.72,265.3 L127.07,265.3 L127.43,265.3 L127.78,265.29 L128.13,265.29 L128.49,265.29 L128.84,265.29 L129.19,265.29 L129.55,265.29 L129.9,265.28 L130.25,265.28 L130.61,265.27 L130.96,265.27 L131.31,265.26 L131.67,265.26 L132.02,265.25 L132.37,265.24 L132.73,265.22 L133.08,265.21 L133.43,265.19 L133.79,265.17 L134.14,265.15 L134.49,265.12 L134.85,265.09 L135.2,265.05 L135.55,265.01 L135.91,264.97 L136.26,264.91 L136.61,264.85 L136.97,264.78 L137.32,264.7 L137.67,264.61 L138.03,264.5 L138.38,264.39 L138.73,264.26 L139.09,264.11 L139.44,263.95 L139.79,263.77 L140.15,263.57 L140.5,263.35 L140.85,263.11 L141.21,262.85 L141.56,262.56 L141.91,262.24 L142.27,261.9 L142.62,261.52 L142.97,261.12 L143.33,260.69 L143.68,260.22 L144.03,259.73 L144.39,259.2 L144.74,258.63 L145.09,258.04 L145.45,257.41 L145.8,256.75 L146.15,256.06 L146.51,255.35 L146.86,254.6 L147.21,253.83 L147.57,253.03 L147.92,252.21 L148.27,251.38 L148.63,250.53 L148.98,249.67 L149.33,248.81 L149.69,247.94 L150.04,247.07 L150.39,246.21 L150.75,245.37 L151.1,244.54 L151.45,243.73 L151.81,242.95 L152.16,242.21 L152.51,241.5 L152.87,240.83 L153.22,240.21 L153.57,239.64 L153.93,239.13 L154.28,238.68 L154.63,238.29 L154.98,237.97 L155.34,237.72 L155.69,237.54 L156.04,237.43 L156.4,237.39 L156.75,237.42 L157.1,237.5 L157.46,237.64 L157.81,237.83 L158.16,238.08 L158.52,238.37 L158.87,238.72 L159.22,239.11 L159.58,239.55 L159.93,240.03 L160.28,240.55 L160.64,241.11 L160.99,241.71 L161.34,242.33 L161.7,242.99 L162.05,243.66 L162.4,244.36 L162.76,245.08 L163.11,245.81 L163.46,246.55 L163.82,247.3 L164.17,248.05 L164.52,248.81 L164.88,249.56 L165.23,250.31 L165.58,251.05 L165.94,251.78 L166.29,252.5 L166.64,253.21 L167,253.89 L167.35,254.57 L167.7,255.22 L168.06,255.85 L168.41,256.46 L168.76,257.04 L169.12,257.61 L169.47,258.15 L169.82,258.66 L170.18,259.15 L170.53,259.61 L170.88,260.05 L171.24,260.47 L171.59,260.86 L171.94,261.23 L172.3,261.57 L172.65,261.9 L173,262.2 L173.36,262.48 L173.71,262.74 L174.06,262.98 L174.42,263.2 L174.77,263.4 L175.12,263.59 L175.48,263.76 L175.83,263.92 L176.18,264.07 L176.54,264.2 L176.89,264.32 L177.24,264.42 L177.6,264.52 L177.95,264.61 L178.3,264.69 L178.66,264.76 L179.01,264.82 L179.36,264.88 L179.72,264.93 L180.07,264.98 L180.42,265.02 L180.78,265.05 L181.13,265.09 L181.48,265.11 L181.84,265.14 L182.19,265.16 L182.54,265.18 L182.9,265.2 L183.25,265.21 L183.6,265.22 L183.96,265.23 L184.31,265.24 L184.66,265.25 L185.02,265.26 L185.37,265.27 L185.72,265.27 L186.08,265.27 L186.43,265.28 L186.78,265.28 L187.14,265.28 L187.49,265.29 L187.84,265.29 L188.2,265.29 L188.55,265.29 L188.9,265.29 L189.25,265.29 L189.61,265.3 L189.96,265.3 L190.31,265.3 L190.67,265.3 L191.02,265.3 L191.37,265.3 L191.73,265.3 L192.08,265.3 L192.43,265.3 L192.79,265.3 L193.14,265.3 L193.49,265.3 L193.85,265.3 L194.2,265.3 L194.55,265.3 L194.91,265.3 L195.26,265.3 L195.61,265.3 L195.97,265.3 L196.32,265.3 L196.67,265.3 L197.03,265.3 L197.38,265.3 L197.73,265.3 L198.09,265.3 L198.44,265.3 L198.79,265.3 L199.15,265.3 L199.5,265.3 L199.85,265.3 L200.21,265.3 L200.56,265.3 L200.91,265.3 L201.27,265.3 L201.62,265.3 L201.97,265.3 L202.33,265.3 L202.68,265.3 L203.03,265.3 L203.39,265.3 L203.74,265.3 L204.09,265.3 L204.45,265.3 L204.8,265.3 L205.15,265.3 L205.51,265.3 L205.86,265.3 L206.21,265.3 L206.57,265.3 L206.92,265.3 L207.27,265.3 L207.63,265.3 L207.98,265.3 L208.33,265.3 L208.69,265.3 L209.04,265.3 L209.39,265.3 L209.75,265.3 L210.1,265.3 L210.45,265.3 L210.81,265.3 L211.16,265.3 L211.51,265.3 L211.87,265.3 L212.22,265.3 L212.57,265.3 L212.93,265.3 L213.28,265.3 L213.63,265.3 L213.99,265.3 L214.34,265.3 L214.69,265.3 L215.05,265.3 L215.4,265.3 L215.75,265.3 L216.11,265.3 L216.46,265.3 L216.81,265.3 L217.17,265.3 L217.52,265.3 L217.87,265.3 L218.23,265.3 L218.58,265.3 L218.93,265.3 L219.29,265.3 L219.64,265.3 L219.99,265.3 L220.35,265.3 L220.7,265.3 L221.05,265.3 L221.41,265.3 L221.76,265.3 L222.11,265.3 L222.47,265.3 L222.82,265.3 L223.17,265.3 L223.53,265.3 L223.88,265.3 L224.23,265.3 L224.58,265.3 L224.94,265.3 L225.29,265.3 L225.64,265.3 L226,265.3 L226.35,265.3 L226.7,265.3 L227.06,265.3 L227.41,265.3 L227.76,265.3 L228.12,265.3 L228.47,265.3 L228.82,265.3 L229.18,265.3 L229.53,265.3 L229.88,265.3 L230.24,265.3 L230.59,265.3 L230.94,265.3 L231.3,265.3 L231.65,265.3 L232,265.3 L232.36,265.3 L232.71,265.3 L233.06,265.3 L233.42,265.3 L233.77,265.3 L234.12,265.3 L234.48,265.3 L234.83,265.3 L235.18,265.3 L235.54,265.3 L235.89,265.3 L236.24,265.3 L236.6,265.3 L236.95,265.3 L237.3,265.3 L237.66,265.3 L238.01,265.3 L238.36,265.3 L238.72,265.3 L239.07,265.3 L239.42,265.3 L239.78,265.3 L240.13,265.3 L240.48,265.3 L240.84,265.3 L241.19,265.3 L241.54,265.3 L241.9,265.3 L242.25,265.3 L242.6,265.3 L242.96,265.3 L243.31,265.3 L243.66,265.3 L244.02,265.3 L244.37,265.3 L244.72,265.3 L245.08,265.3 L245.43,265.3 L245.78,265.3 L246.14,265.3 L246.49,265.3 L246.84,265.3 L247.2,265.3 L247.55,265.3 L247.9,265.3 L248.26,265.3 L248.61,265.3 L248.96,265.3 L249.32,265.3 L249.67,265.3 L250.02,265.3 L250.38,265.3 L250.73,265.3 L251.08,265.3 L251.44,265.3 L251.79,265.3 L252.14,265.3 L252.5,265.3 L252.85,265.3 L253.2,265.3 L253.56,265.3 L253.91,265.3 L254.26,265.3 L254.62,265.3 L254.97,265.3 L255.32,265.3 L255.68,265.3 L256.03,265.3 L256.38,265.3 L256.74,265.3 L257.09,265.3 L257.44,265.3 L257.8,265.3 L258.15,265.3 L258.5,265.3 L258.86,265.3 L259.21,265.3 L259.56,265.3 L259.91,265.3 L260.27,265.3 L260.62,265.3 L260.97,265.3 L261.33,265.3 L261.68,265.3 L262.03,265.3 L262.39,265.3 L262.74,265.3 L263.09,265.3 L263.45,265.3 L263.8,265.3 L264.15,265.3 L264.51,265.3 L264.86,265.3 L265.21,265.3 L265.57,265.3 L265.92,265.3 L266.27,265.3 L266.63,265.3 L266.98,265.3 L267.33,265.3 L267.69,265.3 L268.04,265.3 L268.39,265.3 L268.75,265.3 L269.1,265.3 L269.45,265.3 L269.81,265.3 L270.16,265.3 L270.51,265.3 L270.87,265.3 L271.22,265.3 L271.57,265.3 L271.93,265.3 L272.28,265.3 L272.63,265.3 L272.99,265.3 L273.34,265.3 L273.69,265.3 L274.05,265.3 L274.4,265.3 L274.75,265.3 L275.11,265.3 L275.46,265.3 L275.81,265.3 L276.17,265.3 L276.52,265.3 L276.87,265.3 L277.23,265.3 L277.58,265.3 L277.93,265.3 L278.29,265.3 L278.64,265.3 L278.99,265.3 L279.35,265.3 L279.7,265.3 L280.05,265.3 L280.41,265.3 L280.76,265.3 L281.11,265.3 L281.47,265.3 L281.82,265.3 L282.17,265.3 L282.53,265.3 L282.88,265.3 L283.23,265.3 L283.59,265.3 L283.94,265.3 L284.29,265.3 L284.65,265.3 L285,265.3 L285.35,265.3 L285.71,265.3 L286.06,265.3 L286.41,265.3 L286.77,265.3 L287.12,265.3 L287.47,265.3 L287.83,265.3 L288.18,265.3 L288.53,265.3 L288.89,265.3 L289.24,265.3 L289.59,265.3 L289.95,265.3 L290.3,265.3 L290.65,265.3 L291.01,265.3 L291.36,265.3 L291.71,265.3 L292.07,265.3 L292.42,265.3 L292.77,265.3 L293.13,265.3 L293.48,265.3 L293.83,265.3 L294.19,265.3 L294.54,265.3 L294.89,265.3 L295.24,265.3 L295.6,265.3 L295.95,265.3 L296.3,265.3 L296.66,265.3 L297.01,265.3 L297.36,265.3 L297.72,265.3 L298.07,265.3 L298.42,265.3 L298.78,265.3 L299.13,265.3 L299.48,265.3 L299.84,265.3 L300.19,265.3 L300.54,265.3 L300.9,265.3 L301.25,265.3 L301.6,265.3 L301.96,265.3 L302.31,265.3 L302.66,265.3 L303.02,265.3 L303.37,265.3 L303.72,265.3 L304.08,265.3 L304.43,265.3 L304.78,265.3 L305.14,265.3 L305.49,265.3 L305.84,265.3 L306.2,265.3 L306.55,265.3 L306.9,265.3 L307.26,265.3 L307.61,265.3 L307.96,265.3 L308.32,265.3 L308.67,265.3 L309.02,265.3 L309.38,265.3 L309.73,265.3 L310.08,265.3 L310.44,265.3 L310.79,265.3 L311.14,265.3 L311.5,265.3 L311.85,265.3 L312.2,265.3 L312.56,265.3 L312.91,265.3" stroke="#d4d42a" stroke-width="1.6"/>
<path d="M65.6,264.8H312.91" stroke="#999900" stroke-width="1.4"/>
<path d="M65.6,264.8H312.91" stroke="#7f7f22" stroke-width="1.4"/>
</g>
<g fill="#000" stroke="#000" stroke-width="1"><line x1="68.07" y1="228.34" x2="68.07" y2="231.26"/><circle cx="68.07" cy="229.8" r="1.8" stroke="none"/><line x1="73.02" y1="231.03" x2="73.02" y2="233.83"/><circle cx="73.02" cy="232.43" r="1.8" stroke="none"/><line x1="77.97" y1="233.11" x2="77.97" y2="235.82"/><circle cx="77.97" cy="234.46" r="1.8" stroke="none"/><line x1="82.91" y1="232.74" x2="82.91" y2="235.47"/><circle cx="82.91" cy="234.1" r="1.8" stroke="none"/><line x1="87.86" y1="237.32" x2="87.86" y2="239.85"/><circle cx="87.86" cy="238.59" r="1.8" stroke="none"/><line x1="92.8" y1="239.46" x2="92.8" y2="241.89"/><circle cx="92.8" cy="240.68" r="1.8" stroke="none"/><line x1="97.75" y1="245.35" x2="97.75" y2="247.48"/><circle cx="97.75" cy="246.42" r="1.8" stroke="none"/><circle cx="102.7" cy="251.14" r="1.8" stroke="none"/><circle cx="107.64" cy="252.03" r="1.8" stroke="none"/><circle cx="112.59" cy="252.81" r="1.8" stroke="none"/><circle cx="117.54" cy="252.81" r="1.8" stroke="none"/><circle cx="122.48" cy="251.44" r="1.8" stroke="none"/><line x1="127.43" y1="239.95" x2="127.43" y2="242.36"/><circle cx="127.43" cy="241.16" r="1.8" stroke="none"/><line x1="132.37" y1="210.57" x2="132.37" y2="214.13"/><circle cx="132.37" cy="212.35" r="1.8" stroke="none"/><line x1="137.32" y1="143.46" x2="137.32" y2="148.8"/><circle cx="137.32" cy="146.13" r="1.8" stroke="none"/><line x1="142.27" y1="68.87" x2="142.27" y2="75.66"/><circle cx="142.27" cy="72.27" r="1.8" stroke="none"/><line x1="147.21" y1="89.68" x2="147.21" y2="96.1"/><circle cx="147.21" cy="92.89" r="1.8" stroke="none"/><line x1="152.16" y1="163.66" x2="152.16" y2="168.53"/><circle cx="152.16" cy="166.09" r="1.8" stroke="none"/><line x1="157.1" y1="212.33" x2="157.1" y2="215.83"/><circle cx="157.1" cy="214.08" r="1.8" stroke="none"/><line x1="162.05" y1="235" x2="162.05" y2="237.63"/><circle cx="162.05" cy="236.32" r="1.8" stroke="none"/><line x1="167" y1="247.07" x2="167" y2="249.1"/><circle cx="167" cy="248.09" r="1.8" stroke="none"/><circle cx="171.94" cy="255.14" r="1.8" stroke="none"/><circle cx="176.89" cy="259.02" r="1.8" stroke="none"/><circle cx="181.84" cy="260.64" r="1.8" stroke="none"/><circle cx="186.78" cy="261" r="1.8" stroke="none"/><circle cx="191.73" cy="261.24" r="1.8" stroke="none"/><circle cx="196.67" cy="261.83" r="1.8" stroke="none"/><circle cx="201.62" cy="261.24" r="1.8" stroke="none"/><circle cx="206.57" cy="261.83" r="1.8" stroke="none"/><circle cx="211.51" cy="262.79" r="1.8" stroke="none"/><circle cx="216.46" cy="263.33" r="1.8" stroke="none"/><circle cx="221.41" cy="263.81" r="1.8" stroke="none"/><circle cx="226.35" cy="263.81" r="1.8" stroke="none"/><circle cx="231.3" cy="264.22" r="1.8" stroke="none"/><circle cx="236.24" cy="264.4" r="1.8" stroke="none"/><circle cx="241.19" cy="263.81" r="1.8" stroke="none"/><circle cx="246.14" cy="263.69" r="1.8" stroke="none"/><circle cx="251.08" cy="264.1" r="1.8" stroke="none"/><circle cx="256.03" cy="264.22" r="1.8" stroke="none"/><circle cx="260.97" cy="263.99" r="1.8" stroke="none"/><circle cx="265.92" cy="264.4" r="1.8" stroke="none"/><circle cx="270.87" cy="264.1" r="1.8" stroke="none"/><circle cx="275.81" cy="263.81" r="1.8" stroke="none"/><circle cx="280.76" cy="264.28" r="1.8" stroke="none"/><circle cx="285.71" cy="264.1" r="1.8" stroke="none"/><circle cx="290.65" cy="264.46" r="1.8" stroke="none"/><circle cx="295.6" cy="264.22" r="1.8" stroke="none"/><circle cx="300.54" cy="263.99" r="1.8" stroke="none"/><circle cx="305.49" cy="264.34" r="1.8" stroke="none"/><circle cx="310.44" cy="264.16" r="1.8" stroke="none"/></g>
<path d="M65.6,265.3h7.5M312.91,265.3h-7.5M65.6,259.32h4M312.91,259.32h-4M65.6,253.35h4M312.91,253.35h-4M65.6,247.37h4M312.91,247.37h-4M65.6,241.4h4M312.91,241.4h-4M65.6,235.42h7.5M312.91,235.42h-7.5M65.6,229.44h4M312.91,229.44h-4M65.6,223.47h4M312.91,223.47h-4M65.6,217.49h4M312.91,217.49h-4M65.6,211.51h4M312.91,211.51h-4M65.6,205.54h7.5M312.91,205.54h-7.5M65.6,199.56h4M312.91,199.56h-4M65.6,193.59h4M312.91,193.59h-4M65.6,187.61h4M312.91,187.61h-4M65.6,181.63h4M312.91,181.63h-4M65.6,175.66h7.5M312.91,175.66h-7.5M65.6,169.68h4M312.91,169.68h-4M65.6,163.7h4M312.91,163.7h-4M65.6,157.73h4M312.91,157.73h-4M65.6,151.75h4M312.91,151.75h-4M65.6,145.78h7.5M312.91,145.78h-7.5M65.6,139.8h4M312.91,139.8h-4M65.6,133.82h4M312.91,133.82h-4M65.6,127.85h4M312.91,127.85h-4M65.6,121.87h4M312.91,121.87h-4M65.6,115.89h7.5M312.91,115.89h-7.5M65.6,109.92h4M312.91,109.92h-4M65.6,103.94h4M312.91,103.94h-4M65.6,97.97h4M312.91,97.97h-4M65.6,91.99h4M312.91,91.99h-4M65.6,86.01h7.5M312.91,86.01h-7.5M65.6,80.04h4M312.91,80.04h-4M65.6,74.06h4M312.91,74.06h-4M65.6,68.08h4M312.91,68.08h-4M65.6,62.11h4M312.91,62.11h-4M65.6,56.13h7.5M312.91,56.13h-7.5M65.6,50.16h4M312.91,50.16h-4M65.6,44.18h4M312.91,44.18h-4M65.6,38.2h4M312.91,38.2h-4M65.6,32.23h4M312.91,32.23h-4M65.6,26.25h7.5M312.91,26.25h-7.5M65.6,265.3v-7M65.6,26.25v7M83.26,265.3v-3.5M83.26,26.25v3.5M100.93,265.3v-3.5M100.93,26.25v3.5M118.6,265.3v-3.5M118.6,26.25v3.5M136.26,265.3v-7M136.26,26.25v7M153.93,265.3v-3.5M153.93,26.25v3.5M171.59,265.3v-3.5M171.59,26.25v3.5M189.25,265.3v-3.5M189.25,26.25v3.5M206.92,265.3v-7M206.92,26.25v7M224.59,265.3v-3.5M224.59,26.25v3.5M242.25,265.3v-3.5M242.25,26.25v3.5M259.91,265.3v-3.5M259.91,26.25v3.5M277.58,265.3v-7M277.58,26.25v7M295.25,265.3v-3.5M295.25,26.25v3.5M312.91,265.3v-3.5M312.91,26.25v3.5" stroke="#000" stroke-width="1.2" fill="none"/>
<rect x="65.6" y="26.25" width="247.31" height="239.05" stroke="#000" stroke-width="1.4" fill="none"/>
<g font-size="15" fill="#000"><text x="62.8" y="270.9" text-anchor="end">0</text><text x="62.8" y="241.02" text-anchor="end">500</text><text x="62.8" y="211.14" text-anchor="end">1000</text><text x="62.8" y="181.26" text-anchor="end">1500</text><text x="62.8" y="151.38" text-anchor="end">2000</text><text x="62.8" y="121.49" text-anchor="end">2500</text><text x="62.8" y="91.61" text-anchor="end">3000</text><text x="62.8" y="61.73" text-anchor="end">3500</text><text x="62.8" y="31.85" text-anchor="end">4000</text><text x="66" y="281.3" text-anchor="middle">5.4</text><text x="136.66" y="281.3" text-anchor="middle">5.6</text><text x="207.32" y="281.3" text-anchor="middle">5.8</text><text x="277.98" y="281.3" text-anchor="middle">6</text></g>
<clipPath id="clip396"><rect x="396.8" y="26.25" width="247.31" height="239.05"/></clipPath>
<g clip-path="url(#clip396)" fill="none">
<path d="M396.8,233.54 L397.15,233.53 L397.51,233.53 L397.86,233.53 L398.21,233.53 L398.57,233.54 L398.92,233.55 L399.27,233.56 L399.63,233.58 L399.98,233.6 L400.33,233.62 L400.69,233.65 L401.04,233.67 L401.39,233.7 L401.75,233.74 L402.1,233.77 L402.45,233.81 L402.81,233.85 L403.16,233.89 L403.51,233.93 L403.87,233.98 L404.22,234.03 L404.57,234.08 L404.93,234.13 L405.28,234.18 L405.63,234.24 L405.99,234.29 L406.34,234.35 L406.69,234.41 L407.05,234.47 L407.4,234.54 L407.75,234.61 L408.11,234.7 L408.46,234.8 L408.81,234.91 L409.17,235.02 L409.52,235.14 L409.87,235.27 L410.23,235.4 L410.58,235.54 L410.93,235.69 L411.29,235.83 L411.64,235.99 L411.99,236.14 L412.35,236.3 L412.7,236.46 L413.05,236.62 L413.41,236.79 L413.76,236.98 L414.11,237.17 L414.46,237.37 L414.82,237.57 L415.17,237.79 L415.52,238.02 L415.88,238.25 L416.23,238.49 L416.58,238.73 L416.94,238.99 L417.29,239.24 L417.64,239.5 L418,239.76 L418.35,240.03 L418.7,240.3 L419.06,240.57 L419.41,240.86 L419.76,241.17 L420.12,241.49 L420.47,241.83 L420.82,242.18 L421.18,242.54 L421.53,242.9 L421.88,243.28 L422.24,243.65 L422.59,244.03 L422.94,244.4 L423.3,244.77 L423.65,245.13 L424,245.49 L424.36,245.83 L424.71,246.16 L425.06,246.47 L425.42,246.77 L425.77,247.07 L426.12,247.36 L426.48,247.65 L426.83,247.94 L427.18,248.21 L427.54,248.49 L427.89,248.76 L428.24,249.02 L428.6,249.27 L428.95,249.52 L429.3,249.76 L429.66,249.98 L430.01,250.21 L430.36,250.44 L430.72,250.67 L431.07,250.9 L431.42,251.12 L431.78,251.32 L432.13,251.49 L432.48,251.63 L432.84,251.72 L433.19,251.78 L433.54,251.84 L433.9,251.89 L434.25,251.95 L434.6,252.01 L434.96,252.07 L435.31,252.12 L435.66,252.17 L436.02,252.23 L436.37,252.28 L436.72,252.33 L437.08,252.38 L437.43,252.43 L437.78,252.47 L438.14,252.52 L438.49,252.56 L438.84,252.6 L439.2,252.64 L439.55,252.68 L439.9,252.72 L440.26,252.75 L440.61,252.79 L440.96,252.82 L441.32,252.85 L441.67,252.87 L442.02,252.9 L442.38,252.92 L442.73,252.94 L443.08,252.96 L443.44,252.98 L443.79,252.99 L444.14,253 L444.5,253.01 L444.85,253.01 L445.2,253.01 L445.56,253.01 L445.91,253 L446.26,252.99 L446.62,252.98 L446.97,252.96 L447.32,252.93 L447.68,252.9 L448.03,252.86 L448.38,252.82 L448.74,252.77 L449.09,252.71 L449.44,252.64 L449.79,252.56 L450.15,252.48 L450.5,252.38 L450.85,252.27 L451.21,252.15 L451.56,252.02 L451.91,251.87 L452.27,251.71 L452.62,251.53 L452.97,251.33 L453.33,251.12 L453.68,250.88 L454.03,250.63 L454.39,250.35 L454.74,250.05 L455.09,249.72 L455.45,249.36 L455.8,248.97 L456.15,248.55 L456.51,248.1 L456.86,247.61 L457.21,247.08 L457.57,246.5 L457.92,245.88 L458.27,245.2 L458.63,244.47 L458.98,243.67 L459.33,242.81 L459.69,241.87 L460.04,240.85 L460.39,239.75 L460.75,238.54 L461.1,237.24 L461.45,235.82 L461.81,234.27 L462.16,232.58 L462.51,230.75 L462.87,228.75 L463.22,226.56 L463.57,224.18 L463.93,221.58 L464.28,218.74 L464.63,215.63 L464.99,212.22 L465.34,208.5 L465.69,204.41 L466.05,199.94 L466.4,195.02 L466.75,189.68 L467.11,184.11 L467.46,178.36 L467.81,172.48 L468.17,166.49 L468.52,160.42 L468.87,154.31 L469.23,148.21 L469.58,142.15 L469.93,136.19 L470.29,130.36 L470.64,124.71 L470.99,119.29 L471.35,114.15 L471.7,109.33 L472.05,104.87 L472.41,100.81 L472.76,97.19 L473.11,94.04 L473.47,91.39 L473.82,89.25 L474.17,87.65 L474.53,86.61 L474.88,86.11 L475.23,86.17 L475.59,86.78 L475.94,87.93 L476.29,89.59 L476.65,91.76 L477,94.39 L477.35,97.46 L477.71,100.93 L478.06,104.77 L478.41,108.93 L478.77,113.37 L479.12,118.05 L479.47,122.91 L479.83,127.93 L480.18,133.05 L480.53,138.24 L480.89,143.44 L481.24,148.64 L481.59,153.78 L481.95,158.85 L482.3,163.81 L482.65,168.64 L483.01,173.32 L483.36,177.83 L483.71,182.16 L484.07,186.3 L484.42,190.25 L484.77,193.99 L485.12,197.54 L485.48,200.88 L485.83,204.03 L486.18,207 L486.54,209.79 L486.89,212.4 L487.24,214.86 L487.6,217.08 L487.95,218.94 L488.3,220.52 L488.66,221.92 L489.01,223.18 L489.36,224.36 L489.72,225.47 L490.07,226.53 L490.42,227.56 L490.78,228.58 L491.13,229.57 L491.48,230.56 L491.84,231.55 L492.19,232.53 L492.54,233.51 L492.9,234.48 L493.25,235.46 L493.6,236.43 L493.96,237.39 L494.31,238.36 L494.66,239.31 L495.02,240.25 L495.37,241.19 L495.72,242.11 L496.08,243.01 L496.43,243.9 L496.78,244.77 L497.14,245.62 L497.49,246.45 L497.84,247.26 L498.2,248.04 L498.55,248.8 L498.9,249.53 L499.26,250.23 L499.61,250.91 L499.96,251.56 L500.32,252.18 L500.67,252.77 L501.02,253.33 L501.38,253.87 L501.73,254.38 L502.08,254.86 L502.44,255.32 L502.79,255.75 L503.14,256.15 L503.5,256.54 L503.85,256.89 L504.2,257.23 L504.56,257.54 L504.91,257.83 L505.26,258.11 L505.62,258.36 L505.97,258.6 L506.32,258.82 L506.68,259.03 L507.03,259.22 L507.38,259.39 L507.74,259.56 L508.09,259.71 L508.44,259.85 L508.8,259.98 L509.15,260.1 L509.5,260.21 L509.86,260.32 L510.21,260.42 L510.56,260.51 L510.92,260.59 L511.27,260.67 L511.62,260.74 L511.98,260.81 L512.33,260.88 L512.68,260.94 L513.04,260.99 L513.39,261.05 L513.74,261.1 L514.1,261.15 L514.45,261.19 L514.8,261.23 L515.16,261.28 L515.51,261.32 L515.86,261.35 L516.22,261.39 L516.57,261.42 L516.92,261.46 L517.28,261.49 L517.63,261.52 L517.98,261.55 L518.34,261.58 L518.69,261.6 L519.04,261.63 L519.4,261.65 L519.75,261.68 L520.1,261.7 L520.45,261.72 L520.81,261.73 L521.16,261.75 L521.51,261.77 L521.87,261.78 L522.22,261.79 L522.57,261.8 L522.93,261.81 L523.28,261.81 L523.63,261.81 L523.99,261.81 L524.34,261.81 L524.69,261.81 L525.05,261.8 L525.4,261.79 L525.75,261.78 L526.11,261.76 L526.46,261.74 L526.81,261.72 L527.17,261.7 L527.52,261.67 L527.87,261.64 L528.23,261.61 L528.58,261.58 L528.93,261.55 L529.29,261.51 L529.64,261.47 L529.99,261.43 L530.35,261.39 L530.7,261.35 L531.05,261.31 L531.41,261.27 L531.76,261.23 L532.11,261.19 L532.47,261.15 L532.82,261.11 L533.17,261.08 L533.53,261.05 L533.88,261.02 L534.23,260.99 L534.59,260.97 L534.94,260.96 L535.29,260.94 L535.65,260.94 L536,260.93 L536.35,260.94 L536.71,260.94 L537.06,260.96 L537.41,260.98 L537.77,261 L538.12,261.03 L538.47,261.06 L538.83,261.1 L539.18,261.15 L539.53,261.2 L539.89,261.25 L540.24,261.31 L540.59,261.37 L540.95,261.43 L541.3,261.5 L541.65,261.56 L542.01,261.63 L542.36,261.71 L542.71,261.78 L543.07,261.85 L543.42,261.93 L543.77,262 L544.13,262.07 L544.48,262.14 L544.83,262.22 L545.19,262.29 L545.54,262.35 L545.89,262.42 L546.25,262.48 L546.6,262.55 L546.95,262.6 L547.31,262.66 L547.66,262.72 L548.01,262.77 L548.37,262.82 L548.72,262.86 L549.07,262.91 L549.43,262.95 L549.78,262.99 L550.13,263.03 L550.49,263.06 L550.84,263.09 L551.19,263.12 L551.55,263.15 L551.9,263.18 L552.25,263.2 L552.61,263.23 L552.96,263.25 L553.31,263.27 L553.67,263.29 L554.02,263.31 L554.37,263.32 L554.73,263.34 L555.08,263.36 L555.43,263.37 L555.78,263.38 L556.14,263.4 L556.49,263.41 L556.84,263.42 L557.2,263.43 L557.55,263.44 L557.9,263.45 L558.26,263.46 L558.61,263.47 L558.96,263.48 L559.32,263.49 L559.67,263.5 L560.02,263.51 L560.38,263.52 L560.73,263.53 L561.08,263.54 L561.44,263.55 L561.79,263.55 L562.14,263.56 L562.5,263.57 L562.85,263.58 L563.2,263.59 L563.56,263.59 L563.91,263.6 L564.26,263.61 L564.62,263.62 L564.97,263.62 L565.32,263.63 L565.68,263.64 L566.03,263.65 L566.38,263.65 L566.74,263.66 L567.09,263.67 L567.44,263.67 L567.8,263.68 L568.15,263.69 L568.5,263.7 L568.86,263.7 L569.21,263.71 L569.56,263.72 L569.92,263.72 L570.27,263.73 L570.62,263.73 L570.98,263.74 L571.33,263.75 L571.68,263.75 L572.04,263.76 L572.39,263.77 L572.74,263.77 L573.1,263.78 L573.45,263.78 L573.8,263.79 L574.16,263.8 L574.51,263.8 L574.86,263.81 L575.22,263.81 L575.57,263.82 L575.92,263.82 L576.28,263.83 L576.63,263.84 L576.98,263.84 L577.34,263.85 L577.69,263.85 L578.04,263.86 L578.4,263.86 L578.75,263.87 L579.1,263.87 L579.46,263.88 L579.81,263.88 L580.16,263.89 L580.52,263.89 L580.87,263.9 L581.22,263.9 L581.58,263.91 L581.93,263.91 L582.28,263.92 L582.64,263.92 L582.99,263.93 L583.34,263.93 L583.7,263.94 L584.05,263.94 L584.4,263.95 L584.76,263.95 L585.11,263.96 L585.46,263.96 L585.82,263.97 L586.17,263.97 L586.52,263.97 L586.88,263.98 L587.23,263.98 L587.58,263.99 L587.94,263.99 L588.29,264 L588.64,264 L589,264 L589.35,264.01 L589.7,264.01 L590.06,264.02 L590.41,264.02 L590.76,264.02 L591.11,264.03 L591.47,264.03 L591.82,264.04 L592.17,264.04 L592.53,264.04 L592.88,264.05 L593.23,264.05 L593.59,264.06 L593.94,264.06 L594.29,264.06 L594.65,264.07 L595,264.07 L595.35,264.07 L595.71,264.08 L596.06,264.08 L596.41,264.09 L596.77,264.09 L597.12,264.09 L597.47,264.1 L597.83,264.1 L598.18,264.1 L598.53,264.11 L598.89,264.11 L599.24,264.11 L599.59,264.12 L599.95,264.12 L600.3,264.12 L600.65,264.13 L601.01,264.13 L601.36,264.13 L601.71,264.14 L602.07,264.14 L602.42,264.14 L602.77,264.15 L603.13,264.15 L603.48,264.15 L603.83,264.16 L604.19,264.16 L604.54,264.16 L604.89,264.17 L605.25,264.17 L605.6,264.17 L605.95,264.17 L606.31,264.18 L606.66,264.18 L607.01,264.18 L607.37,264.19 L607.72,264.19 L608.07,264.19 L608.43,264.2 L608.78,264.2 L609.13,264.2 L609.49,264.2 L609.84,264.21 L610.19,264.21 L610.55,264.21 L610.9,264.22 L611.25,264.22 L611.61,264.22 L611.96,264.22 L612.31,264.23 L612.67,264.23 L613.02,264.23 L613.37,264.23 L613.73,264.24 L614.08,264.24 L614.43,264.24 L614.79,264.25 L615.14,264.25 L615.49,264.25 L615.85,264.25 L616.2,264.26 L616.55,264.26 L616.91,264.26 L617.26,264.26 L617.61,264.27 L617.97,264.27 L618.32,264.27 L618.67,264.27 L619.03,264.28 L619.38,264.28 L619.73,264.28 L620.09,264.28 L620.44,264.29 L620.79,264.29 L621.15,264.29 L621.5,264.29 L621.85,264.3 L622.21,264.3 L622.56,264.3 L622.91,264.3 L623.27,264.31 L623.62,264.31 L623.97,264.31 L624.33,264.31 L624.68,264.32 L625.03,264.32 L625.39,264.32 L625.74,264.32 L626.09,264.32 L626.44,264.33 L626.8,264.33 L627.15,264.33 L627.5,264.33 L627.86,264.34 L628.21,264.34 L628.56,264.34 L628.92,264.34 L629.27,264.34 L629.62,264.35 L629.98,264.35 L630.33,264.35 L630.68,264.35 L631.04,264.36 L631.39,264.36 L631.74,264.36 L632.1,264.36 L632.45,264.36 L632.8,264.37 L633.16,264.37 L633.51,264.37 L633.86,264.37 L634.22,264.38 L634.57,264.38 L634.92,264.38 L635.28,264.38 L635.63,264.38 L635.98,264.39 L636.34,264.39 L636.69,264.39 L637.04,264.39 L637.4,264.39 L637.75,264.4 L638.1,264.4 L638.46,264.4 L638.81,264.4 L639.16,264.4 L639.52,264.41 L639.87,264.41 L640.22,264.41 L640.58,264.41 L640.93,264.41 L641.28,264.42 L641.64,264.42 L641.99,264.42 L642.34,264.42 L642.7,264.42 L643.05,264.43 L643.4,264.43 L643.76,264.43 L644.11,264.43" stroke="#0000ff" stroke-width="1.75"/>
<path d="M396.8,265.28 L397.15,265.28 L397.51,265.28 L397.86,265.27 L398.21,265.27 L398.57,265.27 L398.92,265.27 L399.27,265.27 L399.63,265.27 L399.98,265.27 L400.33,265.27 L400.69,265.27 L401.04,265.27 L401.39,265.27 L401.75,265.27 L402.1,265.27 L402.45,265.27 L402.81,265.26 L403.16,265.26 L403.51,265.26 L403.87,265.26 L404.22,265.26 L404.57,265.26 L404.93,265.26 L405.28,265.26 L405.63,265.26 L405.99,265.26 L406.34,265.26 L406.69,265.25 L407.05,265.25 L407.4,265.25 L407.75,265.25 L408.11,265.25 L408.46,265.25 L408.81,265.25 L409.17,265.24 L409.52,265.24 L409.87,265.24 L410.23,265.24 L410.58,265.24 L410.93,265.24 L411.29,265.24 L411.64,265.23 L411.99,265.23 L412.35,265.23 L412.7,265.23 L413.05,265.23 L413.41,265.22 L413.76,265.22 L414.11,265.22 L414.46,265.22 L414.82,265.21 L415.17,265.21 L415.52,265.21 L415.88,265.21 L416.23,265.2 L416.58,265.2 L416.94,265.2 L417.29,265.2 L417.64,265.19 L418,265.19 L418.35,265.19 L418.7,265.18 L419.06,265.18 L419.41,265.18 L419.76,265.17 L420.12,265.17 L420.47,265.16 L420.82,265.16 L421.18,265.16 L421.53,265.15 L421.88,265.15 L422.24,265.14 L422.59,265.14 L422.94,265.13 L423.3,265.13 L423.65,265.12 L424,265.11 L424.36,265.11 L424.71,265.1 L425.06,265.1 L425.42,265.09 L425.77,265.08 L426.12,265.07 L426.48,265.07 L426.83,265.06 L427.18,265.05 L427.54,265.04 L427.89,265.03 L428.24,265.03 L428.6,265.02 L428.95,265.01 L429.3,265 L429.66,264.98 L430.01,264.97 L430.36,264.96 L430.72,264.95 L431.07,264.94 L431.42,264.92 L431.78,264.91 L432.13,264.9 L432.48,264.88 L432.84,264.87 L433.19,264.85 L433.54,264.83 L433.9,264.82 L434.25,264.8 L434.6,264.78 L434.96,264.76 L435.31,264.74 L435.66,264.72 L436.02,264.69 L436.37,264.67 L436.72,264.64 L437.08,264.62 L437.43,264.59 L437.78,264.56 L438.14,264.53 L438.49,264.5 L438.84,264.47 L439.2,264.43 L439.55,264.4 L439.9,264.36 L440.26,264.32 L440.61,264.28 L440.96,264.24 L441.32,264.19 L441.67,264.14 L442.02,264.09 L442.38,264.04 L442.73,263.98 L443.08,263.93 L443.44,263.86 L443.79,263.8 L444.14,263.73 L444.5,263.66 L444.85,263.58 L445.2,263.5 L445.56,263.42 L445.91,263.33 L446.26,263.24 L446.62,263.14 L446.97,263.04 L447.32,262.93 L447.68,262.81 L448.03,262.69 L448.38,262.56 L448.74,262.42 L449.09,262.27 L449.44,262.12 L449.79,261.96 L450.15,261.78 L450.5,261.6 L450.85,261.41 L451.21,261.2 L451.56,260.98 L451.91,260.75 L452.27,260.5 L452.62,260.24 L452.97,259.95 L453.33,259.66 L453.68,259.34 L454.03,259 L454.39,258.64 L454.74,258.25 L455.09,257.84 L455.45,257.4 L455.8,256.93 L456.15,256.43 L456.51,255.89 L456.86,255.31 L457.21,254.7 L457.57,254.03 L457.92,253.32 L458.27,252.56 L458.63,251.74 L458.98,250.86 L459.33,249.91 L459.69,248.89 L460.04,247.79 L460.39,246.6 L460.75,245.32 L461.1,243.93 L461.45,242.43 L461.81,240.81 L462.16,239.06 L462.51,237.16 L462.87,235.09 L463.22,232.85 L463.57,230.42 L463.93,227.77 L464.28,224.88 L464.63,221.73 L464.99,218.3 L465.34,214.55 L465.69,210.45 L466.05,205.96 L466.4,201.04 L466.75,195.69 L467.11,190.12 L467.46,184.39 L467.81,178.54 L468.17,172.58 L468.52,166.55 L468.87,160.5 L469.23,154.47 L469.58,148.5 L469.93,142.64 L470.29,136.93 L470.64,131.42 L470.99,126.16 L471.35,121.2 L471.7,116.59 L472.05,112.36 L472.41,108.55 L472.76,105.22 L473.11,102.38 L473.47,100.06 L473.82,98.3 L474.17,97.11 L474.53,96.5 L474.88,96.47 L475.23,97.04 L475.59,98.18 L475.94,99.9 L476.29,102.17 L476.65,104.97 L477,108.27 L477.35,112.04 L477.71,116.23 L478.06,120.82 L478.41,125.76 L478.77,130.99 L479.12,136.48 L479.47,142.18 L479.83,148.03 L480.18,153.99 L480.53,160.02 L480.89,166.07 L481.24,172.1 L481.59,178.06 L481.95,183.93 L482.3,189.67 L482.65,195.25 L483.01,200.64 L483.36,205.82 L483.71,210.79 L484.07,215.51 L484.42,219.98 L484.77,224.19 L485.12,228.14 L485.48,231.83 L485.83,235.25 L486.18,238.42 L486.54,241.34 L486.89,244.02 L487.24,246.46 L487.6,248.62 L487.95,250.35 L488.3,251.75 L488.66,252.92 L489.01,253.9 L489.36,254.74 L489.72,255.46 L490.07,256.09 L490.42,256.65 L490.78,257.14 L491.13,257.58 L491.48,257.97 L491.84,258.33 L492.19,258.65 L492.54,258.95 L492.9,259.22 L493.25,259.47 L493.6,259.69 L493.96,259.91 L494.31,260.1 L494.66,260.29 L495.02,260.46 L495.37,260.61 L495.72,260.76 L496.08,260.9 L496.43,261.04 L496.78,261.16 L497.14,261.28 L497.49,261.39 L497.84,261.49 L498.2,261.59 L498.55,261.68 L498.9,261.77 L499.26,261.86 L499.61,261.94 L499.96,262.02 L500.32,262.09 L500.67,262.16 L501.02,262.23 L501.38,262.3 L501.73,262.36 L502.08,262.42 L502.44,262.48 L502.79,262.53 L503.14,262.58 L503.5,262.63 L503.85,262.68 L504.2,262.73 L504.56,262.78 L504.91,262.82 L505.26,262.86 L505.62,262.9 L505.97,262.94 L506.32,262.98 L506.68,263.02 L507.03,263.06 L507.38,263.09 L507.74,263.13 L508.09,263.16 L508.44,263.19 L508.8,263.22 L509.15,263.25 L509.5,263.28 L509.86,263.31 L510.21,263.34 L510.56,263.36 L510.92,263.39 L511.27,263.42 L511.62,263.44 L511.98,263.46 L512.33,263.49 L512.68,263.51 L513.04,263.53 L513.39,263.55 L513.74,263.58 L514.1,263.6 L514.45,263.62 L514.8,263.64 L515.16,263.66 L515.51,263.68 L515.86,263.69 L516.22,263.71 L516.57,263.73 L516.92,263.75 L517.28,263.76 L517.63,263.78 L517.98,263.8 L518.34,263.81 L518.69,263.83 L519.04,263.84 L519.4,263.86 L519.75,263.87 L520.1,263.89 L520.45,263.9 L520.81,263.91 L521.16,263.93 L521.51,263.94 L521.87,263.95 L522.22,263.97 L522.57,263.98 L522.93,263.99 L523.28,264 L523.63,264.02 L523.99,264.03 L524.34,264.04 L524.69,264.05 L525.05,264.06 L525.4,264.07 L525.75,264.08 L526.11,264.09 L526.46,264.1 L526.81,264.11 L527.17,264.12 L527.52,264.13 L527.87,264.14 L528.23,264.15 L528.58,264.16 L528.93,264.17 L529.29,264.18 L529.64,264.19 L529.99,264.2 L530.35,264.21 L530.7,264.21 L531.05,264.22 L531.41,264.23 L531.76,264.24 L532.11,264.25 L532.47,264.25 L532.82,264.26 L533.17,264.27 L533.53,264.28 L533.88,264.28 L534.23,264.29 L534.59,264.3 L534.94,264.31 L535.29,264.31 L535.65,264.32 L536,264.33 L536.35,264.33 L536.71,264.34 L537.06,264.35 L537.41,264.35 L537.77,264.36 L538.12,264.37 L538.47,264.37 L538.83,264.38 L539.18,264.38 L539.53,264.39 L539.89,264.4 L540.24,264.4 L540.59,264.41 L540.95,264.41 L541.3,264.42 L541.65,264.42 L542.01,264.43 L542.36,264.43 L542.71,264.44 L543.07,264.45 L543.42,264.45 L543.77,264.46 L544.13,264.46 L544.48,264.47 L544.83,264.47 L545.19,264.48 L545.54,264.48 L545.89,264.49 L546.25,264.49 L546.6,264.49 L546.95,264.5 L547.31,264.5 L547.66,264.51 L548.01,264.51 L548.37,264.52 L548.72,264.52 L549.07,264.53 L549.43,264.53 L549.78,264.53 L550.13,264.54 L550.49,264.54 L550.84,264.55 L551.19,264.55 L551.55,264.55 L551.9,264.56 L552.25,264.56 L552.61,264.57 L552.96,264.57 L553.31,264.57 L553.67,264.58 L554.02,264.58 L554.37,264.58 L554.73,264.59 L555.08,264.59 L555.43,264.6 L555.78,264.6 L556.14,264.6 L556.49,264.61 L556.84,264.61 L557.2,264.61 L557.55,264.62 L557.9,264.62 L558.26,264.62 L558.61,264.63 L558.96,264.63 L559.32,264.63 L559.67,264.64 L560.02,264.64 L560.38,264.64 L560.73,264.65 L561.08,264.65 L561.44,264.65 L561.79,264.65 L562.14,264.66 L562.5,264.66 L562.85,264.66 L563.2,264.67 L563.56,264.67 L563.91,264.67 L564.26,264.67 L564.62,264.68 L564.97,264.68 L565.32,264.68 L565.68,264.69 L566.03,264.69 L566.38,264.69 L566.74,264.69 L567.09,264.7 L567.44,264.7 L567.8,264.7 L568.15,264.7 L568.5,264.71 L568.86,264.71 L569.21,264.71 L569.56,264.71 L569.92,264.72 L570.27,264.72 L570.62,264.72 L570.98,264.72 L571.33,264.73 L571.68,264.73 L572.04,264.73 L572.39,264.73 L572.74,264.74 L573.1,264.74 L573.45,264.74 L573.8,264.74 L574.16,264.74 L574.51,264.75 L574.86,264.75 L575.22,264.75 L575.57,264.75 L575.92,264.76 L576.28,264.76 L576.63,264.76 L576.98,264.76 L577.34,264.76 L577.69,264.77 L578.04,264.77 L578.4,264.77 L578.75,264.77 L579.1,264.77 L579.46,264.78 L579.81,264.78 L580.16,264.78 L580.52,264.78 L580.87,264.78 L581.22,264.79 L581.58,264.79 L581.93,264.79 L582.28,264.79 L582.64,264.79 L582.99,264.79 L583.34,264.8 L583.7,264.8 L584.05,264.8 L584.4,264.8 L584.76,264.8 L585.11,264.81 L585.46,264.81 L585.82,264.81 L586.17,264.81 L586.52,264.81 L586.88,264.81 L587.23,264.82 L587.58,264.82 L587.94,264.82 L588.29,264.82 L588.64,264.82 L589,264.82 L589.35,264.83 L589.7,264.83 L590.06,264.83 L590.41,264.83 L590.76,264.83 L591.11,264.83 L591.47,264.83 L591.82,264.84 L592.17,264.84 L592.53,264.84 L592.88,264.84 L593.23,264.84 L593.59,264.84 L593.94,264.85 L594.29,264.85 L594.65,264.85 L595,264.85 L595.35,264.85 L595.71,264.85 L596.06,264.85 L596.41,264.86 L596.77,264.86 L597.12,264.86 L597.47,264.86 L597.83,264.86 L598.18,264.86 L598.53,264.86 L598.89,264.87 L599.24,264.87 L599.59,264.87 L599.95,264.87 L600.3,264.87 L600.65,264.87 L601.01,264.87 L601.36,264.87 L601.71,264.88 L602.07,264.88 L602.42,264.88 L602.77,264.88 L603.13,264.88 L603.48,264.88 L603.83,264.88 L604.19,264.88 L604.54,264.89 L604.89,264.89 L605.25,264.89 L605.6,264.89 L605.95,264.89 L606.31,264.89 L606.66,264.89 L607.01,264.89 L607.37,264.9 L607.72,264.9 L608.07,264.9 L608.43,264.9 L608.78,264.9 L609.13,264.9 L609.49,264.9 L609.84,264.9 L610.19,264.9 L610.55,264.91 L610.9,264.91 L611.25,264.91 L611.61,264.91 L611.96,264.91 L612.31,264.91 L612.67,264.91 L613.02,264.91 L613.37,264.91 L613.73,264.92 L614.08,264.92 L614.43,264.92 L614.79,264.92 L615.14,264.92 L615.49,264.92 L615.85,264.92 L616.2,264.92 L616.55,264.92 L616.91,264.93 L617.26,264.93 L617.61,264.93 L617.97,264.93 L618.32,264.93 L618.67,264.93 L619.03,264.93 L619.38,264.93 L619.73,264.93 L620.09,264.93 L620.44,264.93 L620.79,264.94 L621.15,264.94 L621.5,264.94 L621.85,264.94 L622.21,264.94 L622.56,264.94 L622.91,264.94 L623.27,264.94 L623.62,264.94 L623.97,264.94 L624.33,264.95 L624.68,264.95 L625.03,264.95 L625.39,264.95 L625.74,264.95 L626.09,264.95 L626.44,264.95 L626.8,264.95 L627.15,264.95 L627.5,264.95 L627.86,264.95 L628.21,264.95 L628.56,264.96 L628.92,264.96 L629.27,264.96 L629.62,264.96 L629.98,264.96 L630.33,264.96 L630.68,264.96 L631.04,264.96 L631.39,264.96 L631.74,264.96 L632.1,264.96 L632.45,264.96 L632.8,264.97 L633.16,264.97 L633.51,264.97 L633.86,264.97 L634.22,264.97 L634.57,264.97 L634.92,264.97 L635.28,264.97 L635.63,264.97 L635.98,264.97 L636.34,264.97 L636.69,264.97 L637.04,264.98 L637.4,264.98 L637.75,264.98 L638.1,264.98 L638.46,264.98 L638.81,264.98 L639.16,264.98 L639.52,264.98 L639.87,264.98 L640.22,264.98 L640.58,264.98 L640.93,264.98 L641.28,264.98 L641.64,264.98 L641.99,264.99 L642.34,264.99 L642.7,264.99 L643.05,264.99 L643.4,264.99 L643.76,264.99 L644.11,264.99" stroke="#ff0000" stroke-width="1.8" stroke-dasharray="2 1.6"/>
<path d="M518.69,265.27 L519.04,265.27 L519.4,265.26 L519.75,265.26 L520.1,265.25 L520.45,265.24 L520.81,265.23 L521.16,265.22 L521.51,265.21 L521.87,265.2 L522.22,265.18 L522.57,265.17 L522.93,265.15 L523.28,265.13 L523.63,265.11 L523.99,265.08 L524.34,265.06 L524.69,265.03 L525.05,265 L525.4,264.97 L525.75,264.93 L526.11,264.89 L526.46,264.85 L526.81,264.81 L527.17,264.77 L527.52,264.72 L527.87,264.67 L528.23,264.62 L528.58,264.56 L528.93,264.51 L529.29,264.45 L529.64,264.39 L529.99,264.33 L530.35,264.27 L530.7,264.21 L531.05,264.15 L531.41,264.09 L531.76,264.03 L532.11,263.98 L532.47,263.92 L532.82,263.86 L533.17,263.81 L533.53,263.76 L533.88,263.72 L534.23,263.68 L534.59,263.64 L534.94,263.6 L535.29,263.57 L535.65,263.55 L536,263.53 L536.35,263.52 L536.71,263.51 L537.06,263.51 L537.41,263.51 L537.77,263.52 L538.12,263.53 L538.47,263.55 L538.83,263.57 L539.18,263.6 L539.53,263.64 L539.89,263.68 L540.24,263.72 L540.59,263.76 L540.95,263.81 L541.3,263.86 L541.65,263.92 L542.01,263.98 L542.36,264.03 L542.71,264.09 L543.07,264.15 L543.42,264.21 L543.77,264.27 L544.13,264.33 L544.48,264.39 L544.83,264.45 L545.19,264.51 L545.54,264.56 L545.89,264.62 L546.25,264.67 L546.6,264.72 L546.95,264.77 L547.31,264.81 L547.66,264.85 L548.01,264.89 L548.37,264.93 L548.72,264.97 L549.07,265 L549.43,265.03 L549.78,265.06 L550.13,265.08 L550.49,265.11 L550.84,265.13 L551.19,265.15 L551.55,265.17 L551.9,265.18 L552.25,265.2 L552.61,265.21 L552.96,265.22 L553.31,265.23 L553.67,265.24 L554.02,265.25 L554.37,265.26 L554.73,265.26 L555.08,265.27 L555.43,265.27" stroke="#a81a20" stroke-width="1.6"/>
<path d="M396.8,262.79 L397.15,262.8 L397.51,262.8 L397.86,262.81 L398.21,262.81 L398.57,262.82 L398.92,262.82 L399.27,262.83 L399.63,262.83 L399.98,262.84 L400.33,262.84 L400.69,262.85 L401.04,262.85 L401.39,262.86 L401.75,262.86 L402.1,262.87 L402.45,262.87 L402.81,262.88 L403.16,262.89 L403.51,262.89 L403.87,262.9 L404.22,262.9 L404.57,262.91 L404.93,262.91 L405.28,262.92 L405.63,262.92 L405.99,262.93 L406.34,262.93 L406.69,262.94 L407.05,262.94 L407.4,262.95 L407.75,262.95 L408.11,262.96 L408.46,262.96 L408.81,262.97 L409.17,262.97 L409.52,262.98 L409.87,262.98 L410.23,262.99 L410.58,262.99 L410.93,263 L411.29,263 L411.64,263.01 L411.99,263.01 L412.35,263.02 L412.7,263.02 L413.05,263.03 L413.41,263.03 L413.76,263.04 L414.11,263.04 L414.46,263.05 L414.82,263.05 L415.17,263.06 L415.52,263.06 L415.88,263.07 L416.23,263.07 L416.58,263.07 L416.94,263.08 L417.29,263.08 L417.64,263.09 L418,263.09 L418.35,263.1 L418.7,263.1 L419.06,263.11 L419.41,263.11 L419.76,263.12 L420.12,263.12 L420.47,263.13 L420.82,263.13 L421.18,263.14 L421.53,263.14 L421.88,263.15 L422.24,263.15 L422.59,263.15 L422.94,263.16 L423.3,263.16 L423.65,263.17 L424,263.17 L424.36,263.18 L424.71,263.18 L425.06,263.19 L425.42,263.19 L425.77,263.2 L426.12,263.2 L426.48,263.2 L426.83,263.21 L427.18,263.21 L427.54,263.22 L427.89,263.22 L428.24,263.23 L428.6,263.23 L428.95,263.24 L429.3,263.24 L429.66,263.24 L430.01,263.25 L430.36,263.25 L430.72,263.26 L431.07,263.26 L431.42,263.27 L431.78,263.27 L432.13,263.28 L432.48,263.28 L432.84,263.28 L433.19,263.29 L433.54,263.29 L433.9,263.3 L434.25,263.3 L434.6,263.31 L434.96,263.31 L435.31,263.31 L435.66,263.32 L436.02,263.32 L436.37,263.33 L436.72,263.33 L437.08,263.34 L437.43,263.34 L437.78,263.34 L438.14,263.35 L438.49,263.35 L438.84,263.36 L439.2,263.36 L439.55,263.36 L439.9,263.37 L440.26,263.37 L440.61,263.38 L440.96,263.38 L441.32,263.39 L441.67,263.39 L442.02,263.39 L442.38,263.4 L442.73,263.4 L443.08,263.41 L443.44,263.41 L443.79,263.41 L444.14,263.42 L444.5,263.42 L444.85,263.43 L445.2,263.43 L445.56,263.43 L445.91,263.44 L446.26,263.44 L446.62,263.45 L446.97,263.45 L447.32,263.45 L447.68,263.46 L448.03,263.46 L448.38,263.47 L448.74,263.47 L449.09,263.47 L449.44,263.48 L449.79,263.48 L450.15,263.49 L450.5,263.49 L450.85,263.49 L451.21,263.5 L451.56,263.5 L451.91,263.51 L452.27,263.51 L452.62,263.51 L452.97,263.52 L453.33,263.52 L453.68,263.52 L454.03,263.53 L454.39,263.53 L454.74,263.54 L455.09,263.54 L455.45,263.54 L455.8,263.55 L456.15,263.55 L456.51,263.55 L456.86,263.56 L457.21,263.56 L457.57,263.57 L457.92,263.57 L458.27,263.57 L458.63,263.58 L458.98,263.58 L459.33,263.58 L459.69,263.59 L460.04,263.59 L460.39,263.6 L460.75,263.6 L461.1,263.6 L461.45,263.61 L461.81,263.61 L462.16,263.61 L462.51,263.62 L462.87,263.62 L463.22,263.62 L463.57,263.63 L463.93,263.63 L464.28,263.64 L464.63,263.64 L464.99,263.64 L465.34,263.65 L465.69,263.65 L466.05,263.65 L466.4,263.66 L466.75,263.66 L467.11,263.66 L467.46,263.67 L467.81,263.67 L468.17,263.67 L468.52,263.68 L468.87,263.68 L469.23,263.68 L469.58,263.69 L469.93,263.69 L470.29,263.7 L470.64,263.7 L470.99,263.7 L471.35,263.71 L471.7,263.71 L472.05,263.71 L472.41,263.72 L472.76,263.72 L473.11,263.72 L473.47,263.73 L473.82,263.73 L474.17,263.73 L474.53,263.74 L474.88,263.74 L475.23,263.74 L475.59,263.75 L475.94,263.75 L476.29,263.75 L476.65,263.76 L477,263.76 L477.35,263.76 L477.71,263.77 L478.06,263.77 L478.41,263.77 L478.77,263.78 L479.12,263.78 L479.47,263.78 L479.83,263.79 L480.18,263.79 L480.53,263.79 L480.89,263.8 L481.24,263.8 L481.59,263.8 L481.95,263.8 L482.3,263.81 L482.65,263.81 L483.01,263.81 L483.36,263.82 L483.71,263.82 L484.07,263.82 L484.42,263.83 L484.77,263.83 L485.12,263.83 L485.48,263.84 L485.83,263.84 L486.18,263.84 L486.54,263.85 L486.89,263.85 L487.24,263.85 L487.6,263.86 L487.95,263.86 L488.3,263.86 L488.66,263.86 L489.01,263.87 L489.36,263.87 L489.72,263.87 L490.07,263.88 L490.42,263.88 L490.78,263.88 L491.13,263.89 L491.48,263.89 L491.84,263.89 L492.19,263.9 L492.54,263.9 L492.9,263.9 L493.25,263.9 L493.6,263.91 L493.96,263.91 L494.31,263.91 L494.66,263.92 L495.02,263.92 L495.37,263.92 L495.72,263.93 L496.08,263.93 L496.43,263.93 L496.78,263.93 L497.14,263.94 L497.49,263.94 L497.84,263.94 L498.2,263.95 L498.55,263.95 L498.9,263.95 L499.26,263.95 L499.61,263.96 L499.96,263.96 L500.32,263.96 L500.67,263.97 L501.02,263.97 L501.38,263.97 L501.73,263.97 L502.08,263.98 L502.44,263.98 L502.79,263.98 L503.14,263.99 L503.5,263.99 L503.85,263.99 L504.2,263.99 L504.56,264 L504.91,264 L505.26,264 L505.62,264.01 L505.97,264.01 L506.32,264.01 L506.68,264.01 L507.03,264.02 L507.38,264.02 L507.74,264.02 L508.09,264.02 L508.44,264.03 L508.8,264.03 L509.15,264.03 L509.5,264.04 L509.86,264.04 L510.21,264.04 L510.56,264.04 L510.92,264.05 L511.27,264.05 L511.62,264.05 L511.98,264.05 L512.33,264.06 L512.68,264.06 L513.04,264.06 L513.39,264.07 L513.74,264.07 L514.1,264.07 L514.45,264.07 L514.8,264.08 L515.16,264.08 L515.51,264.08 L515.86,264.08 L516.22,264.09 L516.57,264.09 L516.92,264.09 L517.28,264.09 L517.63,264.1 L517.98,264.1 L518.34,264.1 L518.69,264.1 L519.04,264.11 L519.4,264.11 L519.75,264.11 L520.1,264.11 L520.45,264.12 L520.81,264.12 L521.16,264.12 L521.51,264.12 L521.87,264.13 L522.22,264.13 L522.57,264.13 L522.93,264.13 L523.28,264.14 L523.63,264.14 L523.99,264.14 L524.34,264.14 L524.69,264.15 L525.05,264.15 L525.4,264.15 L525.75,264.15 L526.11,264.16 L526.46,264.16 L526.81,264.16 L527.17,264.16 L527.52,264.17 L527.87,264.17 L528.23,264.17 L528.58,264.17 L528.93,264.18 L529.29,264.18 L529.64,264.18 L529.99,264.18 L530.35,264.19 L530.7,264.19 L531.05,264.19 L531.41,264.19 L531.76,264.2 L532.11,264.2 L532.47,264.2 L532.82,264.2 L533.17,264.21 L533.53,264.21 L533.88,264.21 L534.23,264.21 L534.59,264.21 L534.94,264.22 L535.29,264.22 L535.65,264.22 L536,264.22 L536.35,264.23 L536.71,264.23 L537.06,264.23 L537.41,264.23 L537.77,264.24 L538.12,264.24 L538.47,264.24 L538.83,264.24 L539.18,264.24 L539.53,264.25 L539.89,264.25 L540.24,264.25 L540.59,264.25 L540.95,264.26 L541.3,264.26 L541.65,264.26 L542.01,264.26 L542.36,264.26 L542.71,264.27 L543.07,264.27 L543.42,264.27 L543.77,264.27 L544.13,264.28 L544.48,264.28 L544.83,264.28 L545.19,264.28 L545.54,264.28 L545.89,264.29 L546.25,264.29 L546.6,264.29 L546.95,264.29 L547.31,264.3 L547.66,264.3 L548.01,264.3 L548.37,264.3 L548.72,264.3 L549.07,264.31 L549.43,264.31 L549.78,264.31 L550.13,264.31 L550.49,264.31 L550.84,264.32 L551.19,264.32 L551.55,264.32 L551.9,264.32 L552.25,264.33 L552.61,264.33 L552.96,264.33 L553.31,264.33 L553.67,264.33 L554.02,264.34 L554.37,264.34 L554.73,264.34 L555.08,264.34 L555.43,264.34 L555.78,264.35 L556.14,264.35 L556.49,264.35 L556.84,264.35 L557.2,264.35 L557.55,264.36 L557.9,264.36 L558.26,264.36 L558.61,264.36 L558.96,264.36 L559.32,264.37 L559.67,264.37 L560.02,264.37 L560.38,264.37 L560.73,264.37 L561.08,264.38 L561.44,264.38 L561.79,264.38 L562.14,264.38 L562.5,264.38 L562.85,264.39 L563.2,264.39 L563.56,264.39 L563.91,264.39 L564.26,264.39 L564.62,264.4 L564.97,264.4 L565.32,264.4 L565.68,264.4 L566.03,264.4 L566.38,264.41 L566.74,264.41 L567.09,264.41 L567.44,264.41 L567.8,264.41 L568.15,264.42 L568.5,264.42 L568.86,264.42 L569.21,264.42 L569.56,264.42 L569.92,264.42 L570.27,264.43 L570.62,264.43 L570.98,264.43 L571.33,264.43 L571.68,264.43 L572.04,264.44 L572.39,264.44 L572.74,264.44 L573.1,264.44 L573.45,264.44 L573.8,264.45 L574.16,264.45 L574.51,264.45 L574.86,264.45 L575.22,264.45 L575.57,264.45 L575.92,264.46 L576.28,264.46 L576.63,264.46 L576.98,264.46 L577.34,264.46 L577.69,264.47 L578.04,264.47 L578.4,264.47 L578.75,264.47 L579.1,264.47 L579.46,264.47 L579.81,264.48 L580.16,264.48 L580.52,264.48 L580.87,264.48 L581.22,264.48 L581.58,264.48 L581.93,264.49 L582.28,264.49 L582.64,264.49 L582.99,264.49 L583.34,264.49 L583.7,264.5 L584.05,264.5 L584.4,264.5 L584.76,264.5 L585.11,264.5 L585.46,264.5 L585.82,264.51 L586.17,264.51 L586.52,264.51 L586.88,264.51 L587.23,264.51 L587.58,264.51 L587.94,264.52 L588.29,264.52 L588.64,264.52 L589,264.52 L589.35,264.52 L589.7,264.52 L590.06,264.53 L590.41,264.53 L590.76,264.53 L591.11,264.53 L591.47,264.53 L591.82,264.53 L592.17,264.54 L592.53,264.54 L592.88,264.54 L593.23,264.54 L593.59,264.54 L593.94,264.54 L594.29,264.55 L594.65,264.55 L595,264.55 L595.35,264.55 L595.71,264.55 L596.06,264.55 L596.41,264.56 L596.77,264.56 L597.12,264.56 L597.47,264.56 L597.83,264.56 L598.18,264.56 L598.53,264.56 L598.89,264.57 L599.24,264.57 L599.59,264.57 L599.95,264.57 L600.3,264.57 L600.65,264.57 L601.01,264.58 L601.36,264.58 L601.71,264.58 L602.07,264.58 L602.42,264.58 L602.77,264.58 L603.13,264.58 L603.48,264.59 L603.83,264.59 L604.19,264.59 L604.54,264.59 L604.89,264.59 L605.25,264.59 L605.6,264.6 L605.95,264.6 L606.31,264.6 L606.66,264.6 L607.01,264.6 L607.37,264.6 L607.72,264.6 L608.07,264.61 L608.43,264.61 L608.78,264.61 L609.13,264.61 L609.49,264.61 L609.84,264.61 L610.19,264.61 L610.55,264.62 L610.9,264.62 L611.25,264.62 L611.61,264.62 L611.96,264.62 L612.31,264.62 L612.67,264.63 L613.02,264.63 L613.37,264.63 L613.73,264.63 L614.08,264.63 L614.43,264.63 L614.79,264.63 L615.14,264.64 L615.49,264.64 L615.85,264.64 L616.2,264.64 L616.55,264.64 L616.91,264.64 L617.26,264.64 L617.61,264.65 L617.97,264.65 L618.32,264.65 L618.67,264.65 L619.03,264.65 L619.38,264.65 L619.73,264.65 L620.09,264.66 L620.44,264.66 L620.79,264.66 L621.15,264.66 L621.5,264.66 L621.85,264.66 L622.21,264.66 L622.56,264.66 L622.91,264.67 L623.27,264.67 L623.62,264.67 L623.97,264.67 L624.33,264.67 L624.68,264.67 L625.03,264.67 L625.39,264.68 L625.74,264.68 L626.09,264.68 L626.44,264.68 L626.8,264.68 L627.15,264.68 L627.5,264.68 L627.86,264.68 L628.21,264.69 L628.56,264.69 L628.92,264.69 L629.27,264.69 L629.62,264.69 L629.98,264.69 L630.33,264.69 L630.68,264.7 L631.04,264.7 L631.39,264.7 L631.74,264.7 L632.1,264.7 L632.45,264.7 L632.8,264.7 L633.16,264.7 L633.51,264.71 L633.86,264.71 L634.22,264.71 L634.57,264.71 L634.92,264.71 L635.28,264.71 L635.63,264.71 L635.98,264.71 L636.34,264.72 L636.69,264.72 L637.04,264.72 L637.4,264.72 L637.75,264.72 L638.1,264.72 L638.46,264.72 L638.81,264.72 L639.16,264.73 L639.52,264.73 L639.87,264.73 L640.22,264.73 L640.58,264.73 L640.93,264.73 L641.28,264.73 L641.64,264.73 L641.99,264.74 L642.34,264.74 L642.7,264.74 L643.05,264.74 L643.4,264.74 L643.76,264.74 L644.11,264.74" stroke="#00a000" stroke-width="1.8" stroke-dasharray="2 1.6"/>
<path d="M396.8,249.28 L397.15,249.29 L397.51,249.29 L397.86,249.3 L398.21,249.3 L398.57,249.32 L398.92,249.33 L399.27,249.35 L399.63,249.37 L399.98,249.39 L400.33,249.41 L400.69,249.43 L401.04,249.46 L401.39,249.49 L401.75,249.52 L402.1,249.55 L402.45,249.58 L402.81,249.62 L403.16,249.66 L403.51,249.69 L403.87,249.73 L404.22,249.78 L404.57,249.82 L404.93,249.86 L405.28,249.9 L405.63,249.95 L405.99,250 L406.34,250.04 L406.69,250.09 L407.05,250.14 L407.4,250.2 L407.75,250.27 L408.11,250.34 L408.46,250.43 L408.81,250.52 L409.17,250.62 L409.52,250.72 L409.87,250.84 L410.23,250.96 L410.58,251.08 L410.93,251.21 L411.29,251.34 L411.64,251.48 L411.99,251.62 L412.35,251.76 L412.7,251.9 L413.05,252.05 L413.41,252.2 L413.76,252.36 L414.11,252.53 L414.46,252.72 L414.82,252.91 L415.17,253.1 L415.52,253.31 L415.88,253.52 L416.23,253.74 L416.58,253.97 L416.94,254.2 L417.29,254.44 L417.64,254.68 L418,254.92 L418.35,255.17 L418.7,255.42 L419.06,255.67 L419.41,255.93 L419.76,256.22 L420.12,256.51 L420.47,256.83 L420.82,257.15 L421.18,257.47 L421.53,257.81 L421.88,258.15 L422.24,258.49 L422.59,258.82 L422.94,259.16 L423.3,259.49 L423.65,259.81 L424,260.12 L424.36,260.42 L424.71,260.7 L425.06,260.97 L425.42,261.23 L425.77,261.48 L426.12,261.72 L426.48,261.96 L426.83,262.2 L427.18,262.43 L427.54,262.66 L427.89,262.88 L428.24,263.09 L428.6,263.29 L428.95,263.49 L429.3,263.68 L429.66,263.86 L430.01,264.04 L430.36,264.22 L430.72,264.41 L431.07,264.6 L431.42,264.77 L431.78,264.93 L432.13,265.05 L432.48,265.14 L432.84,265.18 L433.19,265.19 L433.54,265.21 L433.9,265.22 L434.25,265.23 L434.6,265.24 L434.96,265.25 L435.31,265.26 L435.66,265.27 L436.02,265.27" stroke="#20d0d0" stroke-width="1.6"/>
<path d="M396.8,253.83 L397.15,253.83 L397.51,253.83 L397.86,253.83 L398.21,253.83 L398.57,253.84 L398.92,253.84 L399.27,253.85 L399.63,253.85 L399.98,253.86 L400.33,253.87 L400.69,253.88 L401.04,253.89 L401.39,253.9 L401.75,253.91 L402.1,253.92 L402.45,253.93 L402.81,253.94 L403.16,253.96 L403.51,253.97 L403.87,253.99 L404.22,254 L404.57,254.02 L404.93,254.03 L405.28,254.05 L405.63,254.07 L405.99,254.09 L406.34,254.1 L406.69,254.12 L407.05,254.14 L407.4,254.16 L407.75,254.18 L408.11,254.21 L408.46,254.23 L408.81,254.25 L409.17,254.27 L409.52,254.3 L409.87,254.32 L410.23,254.34 L410.58,254.37 L410.93,254.39 L411.29,254.42 L411.64,254.44 L411.99,254.47 L412.35,254.49 L412.7,254.52 L413.05,254.55 L413.41,254.57 L413.76,254.6 L414.11,254.63 L414.46,254.65 L414.82,254.68 L415.17,254.71 L415.52,254.74 L415.88,254.77 L416.23,254.79 L416.58,254.82 L416.94,254.85 L417.29,254.88 L417.64,254.91 L418,254.94 L418.35,254.97 L418.7,255 L419.06,255.03 L419.41,255.06 L419.76,255.09 L420.12,255.13 L420.47,255.16 L420.82,255.2 L421.18,255.24 L421.53,255.29 L421.88,255.33 L422.24,255.38 L422.59,255.42 L422.94,255.47 L423.3,255.52 L423.65,255.57 L424,255.63 L424.36,255.68 L424.71,255.74 L425.06,255.79 L425.42,255.85 L425.77,255.91 L426.12,255.97 L426.48,256.02 L426.83,256.08 L427.18,256.14 L427.54,256.2 L427.89,256.27 L428.24,256.33 L428.6,256.39 L428.95,256.45 L429.3,256.51 L429.66,256.57 L430.01,256.63 L430.36,256.69 L430.72,256.75 L431.07,256.81 L431.42,256.87 L431.78,256.94 L432.13,257 L432.48,257.06 L432.84,257.12 L433.19,257.19 L433.54,257.25 L433.9,257.32 L434.25,257.39 L434.6,257.45 L434.96,257.52 L435.31,257.59 L435.66,257.66 L436.02,257.73 L436.37,257.8 L436.72,257.87 L437.08,257.94 L437.43,258.01 L437.78,258.08 L438.14,258.15 L438.49,258.23 L438.84,258.3 L439.2,258.37 L439.55,258.44 L439.9,258.52 L440.26,258.59 L440.61,258.66 L440.96,258.74 L441.32,258.81 L441.67,258.89 L442.02,258.96 L442.38,259.03 L442.73,259.11 L443.08,259.18 L443.44,259.26 L443.79,259.33 L444.14,259.41 L444.5,259.48 L444.85,259.56 L445.2,259.64 L445.56,259.72 L445.91,259.79 L446.26,259.87 L446.62,259.95 L446.97,260.03 L447.32,260.11 L447.68,260.19 L448.03,260.27 L448.38,260.36 L448.74,260.44 L449.09,260.52 L449.44,260.6 L449.79,260.68 L450.15,260.76 L450.5,260.84 L450.85,260.92 L451.21,261 L451.56,261.08 L451.91,261.16 L452.27,261.24 L452.62,261.32 L452.97,261.4 L453.33,261.48 L453.68,261.55 L454.03,261.63 L454.39,261.71 L454.74,261.78 L455.09,261.86 L455.45,261.93 L455.8,262.01 L456.15,262.08 L456.51,262.16 L456.86,262.24 L457.21,262.32 L457.57,262.39 L457.92,262.47 L458.27,262.55 L458.63,262.63 L458.98,262.71 L459.33,262.79 L459.69,262.87 L460.04,262.94 L460.39,263.02 L460.75,263.09 L461.1,263.16 L461.45,263.23 L461.81,263.3 L462.16,263.37 L462.51,263.43 L462.87,263.5 L463.22,263.56 L463.57,263.61 L463.93,263.67 L464.28,263.72 L464.63,263.76 L464.99,263.81 L465.34,263.85 L465.69,263.89 L466.05,263.93 L466.4,263.97 L466.75,264.01 L467.11,264.05 L467.46,264.09 L467.81,264.13 L468.17,264.17 L468.52,264.21 L468.87,264.24 L469.23,264.28 L469.58,264.32 L469.93,264.36 L470.29,264.39 L470.64,264.43 L470.99,264.46 L471.35,264.5 L471.7,264.53 L472.05,264.56 L472.41,264.6 L472.76,264.63 L473.11,264.66 L473.47,264.69 L473.82,264.72 L474.17,264.75 L474.53,264.77 L474.88,264.8 L475.23,264.83 L475.59,264.85 L475.94,264.88 L476.29,264.9 L476.65,264.92 L477,264.94 L477.35,264.96 L477.71,264.98 L478.06,265 L478.41,265.02 L478.77,265.04 L479.12,265.05 L479.47,265.06 L479.83,265.08 L480.18,265.09 L480.53,265.1 L480.89,265.11 L481.24,265.11 L481.59,265.12 L481.95,265.13 L482.3,265.13 L482.65,265.14 L483.01,265.14 L483.36,265.15 L483.71,265.15 L484.07,265.16 L484.42,265.16 L484.77,265.17 L485.12,265.17 L485.48,265.18 L485.83,265.18 L486.18,265.19 L486.54,265.19 L486.89,265.2 L487.24,265.2 L487.6,265.2 L487.95,265.21 L488.3,265.21 L488.66,265.22 L489.01,265.22 L489.36,265.22 L489.72,265.23 L490.07,265.23 L490.42,265.24 L490.78,265.24 L491.13,265.24 L491.48,265.25 L491.84,265.25 L492.19,265.25 L492.54,265.26 L492.9,265.26 L493.25,265.26 L493.6,265.26 L493.96,265.27 L494.31,265.27 L494.66,265.27" stroke="#009a9a" stroke-width="1.6"/>
<path d="M396.8,265.3 L397.15,265.3 L397.51,265.3 L397.86,265.3 L398.21,265.3 L398.57,265.3 L398.92,265.3 L399.27,265.3 L399.63,265.3 L399.98,265.3 L400.33,265.3 L400.69,265.3 L401.04,265.3 L401.39,265.3 L401.75,265.3 L402.1,265.3 L402.45,265.3 L402.81,265.3 L403.16,265.3 L403.51,265.3 L403.87,265.3 L404.22,265.3 L404.57,265.3 L404.93,265.3 L405.28,265.3 L405.63,265.3 L405.99,265.3 L406.34,265.3 L406.69,265.3 L407.05,265.3 L407.4,265.3 L407.75,265.3 L408.11,265.3 L408.46,265.3 L408.81,265.3 L409.17,265.3 L409.52,265.3 L409.87,265.3 L410.23,265.3 L410.58,265.3 L410.93,265.3 L411.29,265.3 L411.64,265.3 L411.99,265.3 L412.35,265.3 L412.7,265.3 L413.05,265.3 L413.41,265.3 L413.76,265.3 L414.11,265.3 L414.46,265.3 L414.82,265.3 L415.17,265.3 L415.52,265.3 L415.88,265.3 L416.23,265.3 L416.58,265.3 L416.94,265.3 L417.29,265.3 L417.64,265.3 L418,265.3 L418.35,265.3 L418.7,265.3 L419.06,265.3 L419.41,265.3 L419.76,265.3 L420.12,265.3 L420.47,265.3 L420.82,265.3 L421.18,265.3 L421.53,265.3 L421.88,265.3 L422.24,265.3 L422.59,265.3 L422.94,265.3 L423.3,265.3 L423.65,265.3 L424,265.3 L424.36,265.3 L424.71,265.3 L425.06,265.3 L425.42,265.3 L425.77,265.3 L426.12,265.3 L426.48,265.3 L426.83,265.3 L427.18,265.3 L427.54,265.3 L427.89,265.3 L428.24,265.3 L428.6,265.3 L428.95,265.3 L429.3,265.3 L429.66,265.3 L430.01,265.3 L430.36,265.3 L430.72,265.3 L431.07,265.3 L431.42,265.3 L431.78,265.3 L432.13,265.3 L432.48,265.3 L432.84,265.3 L433.19,265.3 L433.54,265.3 L433.9,265.3 L434.25,265.3 L434.6,265.3 L434.96,265.3 L435.31,265.3 L435.66,265.3 L436.02,265.3 L436.37,265.3 L436.72,265.3 L437.08,265.3 L437.43,265.3 L437.78,265.3 L438.14,265.3 L438.49,265.3 L438.84,265.3 L439.2,265.3 L439.55,265.3 L439.9,265.3 L440.26,265.3 L440.61,265.3 L440.96,265.3 L441.32,265.3 L441.67,265.3 L442.02,265.3 L442.38,265.3 L442.73,265.3 L443.08,265.3 L443.44,265.3 L443.79,265.3 L444.14,265.3 L444.5,265.3 L444.85,265.3 L445.2,265.3 L445.56,265.3 L445.91,265.3 L446.26,265.3 L446.62,265.3 L446.97,265.3 L447.32,265.3 L447.68,265.3 L448.03,265.3 L448.38,265.3 L448.74,265.3 L449.09,265.3 L449.44,265.3 L449.79,265.3 L450.15,265.3 L450.5,265.3 L450.85,265.3 L451.21,265.3 L451.56,265.3 L451.91,265.3 L452.27,265.3 L452.62,265.3 L452.97,265.3 L453.33,265.3 L453.68,265.3 L454.03,265.3 L454.39,265.3 L454.74,265.3 L455.09,265.3 L455.45,265.3 L455.8,265.3 L456.15,265.3 L456.51,265.3 L456.86,265.3 L457.21,265.3 L457.57,265.3 L457.92,265.3 L458.27,265.3 L458.63,265.29 L458.98,265.29 L459.33,265.29 L459.69,265.29 L460.04,265.29 L460.39,265.28 L460.75,265.28 L461.1,265.28 L461.45,265.27 L461.81,265.27 L462.16,265.26 L462.51,265.25 L462.87,265.24 L463.22,265.23 L463.57,265.22 L463.93,265.2 L464.28,265.18 L464.63,265.16 L464.99,265.14 L465.34,265.11 L465.69,265.08 L466.05,265.04 L466.4,264.99 L466.75,264.94 L467.11,264.89 L467.46,264.82 L467.81,264.75 L468.17,264.66 L468.52,264.56 L468.87,264.46 L469.23,264.33 L469.58,264.2 L469.93,264.05 L470.29,263.88 L470.64,263.69 L470.99,263.48 L471.35,263.25 L471.7,263 L472.05,262.73 L472.41,262.43 L472.76,262.1 L473.11,261.74 L473.47,261.36 L473.82,260.94 L474.17,260.49 L474.53,260.02 L474.88,259.51 L475.23,258.96 L475.59,258.39 L475.94,257.78 L476.29,257.14 L476.65,256.46 L477,255.76 L477.35,255.03 L477.71,254.27 L478.06,253.49 L478.41,252.68 L478.77,251.85 L479.12,251.01 L479.47,250.16 L479.83,249.29 L480.18,248.42 L480.53,247.55 L480.89,246.69 L481.24,245.83 L481.59,244.99 L481.95,244.17 L482.3,243.37 L482.65,242.6 L483.01,241.87 L483.36,241.17 L483.71,240.52 L484.07,239.92 L484.42,239.38 L484.77,238.89 L485.12,238.46 L485.48,238.1 L485.83,237.8 L486.18,237.58 L486.54,237.43 L486.89,237.34 L487.24,237.34 L487.6,237.39 L487.95,237.49 L488.3,237.65 L488.66,237.86 L489.01,238.13 L489.36,238.45 L489.72,238.81 L490.07,239.23 L490.42,239.68 L490.78,240.18 L491.13,240.72 L491.48,241.3 L491.84,241.9 L492.19,242.54 L492.54,243.21 L492.9,243.89 L493.25,244.6 L493.6,245.33 L493.96,246.06 L494.31,246.81 L494.66,247.56 L495.02,248.32 L495.37,249.07 L495.72,249.83 L496.08,250.57 L496.43,251.31 L496.78,252.04 L497.14,252.76 L497.49,253.46 L497.84,254.14 L498.2,254.81 L498.55,255.45 L498.9,256.07 L499.26,256.68 L499.61,257.25 L499.96,257.81 L500.32,258.34 L500.67,258.84 L501.02,259.32 L501.38,259.78 L501.73,260.21 L502.08,260.62 L502.44,261 L502.79,261.36 L503.14,261.7 L503.5,262.01 L503.85,262.3 L504.2,262.58 L504.56,262.83 L504.91,263.06 L505.26,263.28 L505.62,263.48 L505.97,263.66 L506.32,263.82 L506.68,263.98 L507.03,264.12 L507.38,264.24 L507.74,264.36 L508.09,264.46 L508.44,264.56 L508.8,264.64 L509.15,264.72 L509.5,264.79 L509.86,264.85 L510.21,264.9 L510.56,264.95 L510.92,264.99 L511.27,265.03 L511.62,265.07 L511.98,265.1 L512.33,265.12 L512.68,265.15 L513.04,265.17 L513.39,265.19 L513.74,265.2 L514.1,265.22 L514.45,265.23 L514.8,265.24 L515.16,265.25 L515.51,265.25 L515.86,265.26 L516.22,265.27 L516.57,265.27 L516.92,265.28 L517.28,265.28 L517.63,265.28 L517.98,265.29 L518.34,265.29 L518.69,265.29 L519.04,265.29 L519.4,265.29 L519.75,265.29 L520.1,265.3 L520.45,265.3 L520.81,265.3 L521.16,265.3 L521.51,265.3 L521.87,265.3 L522.22,265.3 L522.57,265.3 L522.93,265.3 L523.28,265.3 L523.63,265.3 L523.99,265.3 L524.34,265.3 L524.69,265.3 L525.05,265.3 L525.4,265.3 L525.75,265.3 L526.11,265.3 L526.46,265.3 L526.81,265.3 L527.17,265.3 L527.52,265.3 L527.87,265.3 L528.23,265.3 L528.58,265.3 L528.93,265.3 L529.29,265.3 L529.64,265.3 L529.99,265.3 L530.35,265.3 L530.7,265.3 L531.05,265.3 L531.41,265.3 L531.76,265.3 L532.11,265.3 L532.47,265.3 L532.82,265.3 L533.17,265.3 L533.53,265.3 L533.88,265.3 L534.23,265.3 L534.59,265.3 L534.94,265.3 L535.29,265.3 L535.65,265.3 L536,265.3 L536.35,265.3 L536.71,265.3 L537.06,265.3 L537.41,265.3 L537.77,265.3 L538.12,265.3 L538.47,265.3 L538.83,265.3 L539.18,265.3 L539.53,265.3 L539.89,265.3 L540.24,265.3 L540.59,265.3 L540.95,265.3 L541.3,265.3 L541.65,265.3 L542.01,265.3 L542.36,265.3 L542.71,265.3 L543.07,265.3 L543.42,265.3 L543.77,265.3 L544.13,265.3 L544.48,265.3 L544.83,265.3 L545.19,265.3 L545.54,265.3 L545.89,265.3 L546.25,265.3 L546.6,265.3 L546.95,265.3 L547.31,265.3 L547.66,265.3 L548.01,265.3 L548.37,265.3 L548.72,265.3 L549.07,265.3 L549.43,265.3 L549.78,265.3 L550.13,265.3 L550.49,265.3 L550.84,265.3 L551.19,265.3 L551.55,265.3 L551.9,265.3 L552.25,265.3 L552.61,265.3 L552.96,265.3 L553.31,265.3 L553.67,265.3 L554.02,265.3 L554.37,265.3 L554.73,265.3 L555.08,265.3 L555.43,265.3 L555.78,265.3 L556.14,265.3 L556.49,265.3 L556.84,265.3 L557.2,265.3 L557.55,265.3 L557.9,265.3 L558.26,265.3 L558.61,265.3 L558.96,265.3 L559.32,265.3 L559.67,265.3 L560.02,265.3 L560.38,265.3 L560.73,265.3 L561.08,265.3 L561.44,265.3 L561.79,265.3 L562.14,265.3 L562.5,265.3 L562.85,265.3 L563.2,265.3 L563.56,265.3 L563.91,265.3 L564.26,265.3 L564.62,265.3 L564.97,265.3 L565.32,265.3 L565.68,265.3 L566.03,265.3 L566.38,265.3 L566.74,265.3 L567.09,265.3 L567.44,265.3 L567.8,265.3 L568.15,265.3 L568.5,265.3 L568.86,265.3 L569.21,265.3 L569.56,265.3 L569.92,265.3 L570.27,265.3 L570.62,265.3 L570.98,265.3 L571.33,265.3 L571.68,265.3 L572.04,265.3 L572.39,265.3 L572.74,265.3 L573.1,265.3 L573.45,265.3 L573.8,265.3 L574.16,265.3 L574.51,265.3 L574.86,265.3 L575.22,265.3 L575.57,265.3 L575.92,265.3 L576.28,265.3 L576.63,265.3 L576.98,265.3 L577.34,265.3 L577.69,265.3 L578.04,265.3 L578.4,265.3 L578.75,265.3 L579.1,265.3 L579.46,265.3 L579.81,265.3 L580.16,265.3 L580.52,265.3 L580.87,265.3 L581.22,265.3 L581.58,265.3 L581.93,265.3 L582.28,265.3 L582.64,265.3 L582.99,265.3 L583.34,265.3 L583.7,265.3 L584.05,265.3 L584.4,265.3 L584.76,265.3 L585.11,265.3 L585.46,265.3 L585.82,265.3 L586.17,265.3 L586.52,265.3 L586.88,265.3 L587.23,265.3 L587.58,265.3 L587.94,265.3 L588.29,265.3 L588.64,265.3 L589,265.3 L589.35,265.3 L589.7,265.3 L590.06,265.3 L590.41,265.3 L590.76,265.3 L591.11,265.3 L591.47,265.3 L591.82,265.3 L592.17,265.3 L592.53,265.3 L592.88,265.3 L593.23,265.3 L593.59,265.3 L593.94,265.3 L594.29,265.3 L594.65,265.3 L595,265.3 L595.35,265.3 L595.71,265.3 L596.06,265.3 L596.41,265.3 L596.77,265.3 L597.12,265.3 L597.47,265.3 L597.83,265.3 L598.18,265.3 L598.53,265.3 L598.89,265.3 L599.24,265.3 L599.59,265.3 L599.95,265.3 L600.3,265.3 L600.65,265.3 L601.01,265.3 L601.36,265.3 L601.71,265.3 L602.07,265.3 L602.42,265.3 L602.77,265.3 L603.13,265.3 L603.48,265.3 L603.83,265.3 L604.19,265.3 L604.54,265.3 L604.89,265.3 L605.25,265.3 L605.6,265.3 L605.95,265.3 L606.31,265.3 L606.66,265.3 L607.01,265.3 L607.37,265.3 L607.72,265.3 L608.07,265.3 L608.43,265.3 L608.78,265.3 L609.13,265.3 L609.49,265.3 L609.84,265.3 L610.19,265.3 L610.55,265.3 L610.9,265.3 L611.25,265.3 L611.61,265.3 L611.96,265.3 L612.31,265.3 L612.67,265.3 L613.02,265.3 L613.37,265.3 L613.73,265.3 L614.08,265.3 L614.43,265.3 L614.79,265.3 L615.14,265.3 L615.49,265.3 L615.85,265.3 L616.2,265.3 L616.55,265.3 L616.91,265.3 L617.26,265.3 L617.61,265.3 L617.97,265.3 L618.32,265.3 L618.67,265.3 L619.03,265.3 L619.38,265.3 L619.73,265.3 L620.09,265.3 L620.44,265.3 L620.79,265.3 L621.15,265.3 L621.5,265.3 L621.85,265.3 L622.21,265.3 L622.56,265.3 L622.91,265.3 L623.27,265.3 L623.62,265.3 L623.97,265.3 L624.33,265.3 L624.68,265.3 L625.03,265.3 L625.39,265.3 L625.74,265.3 L626.09,265.3 L626.44,265.3 L626.8,265.3 L627.15,265.3 L627.5,265.3 L627.86,265.3 L628.21,265.3 L628.56,265.3 L628.92,265.3 L629.27,265.3 L629.62,265.3 L629.98,265.3 L630.33,265.3 L630.68,265.3 L631.04,265.3 L631.39,265.3 L631.74,265.3 L632.1,265.3 L632.45,265.3 L632.8,265.3 L633.16,265.3 L633.51,265.3 L633.86,265.3 L634.22,265.3 L634.57,265.3 L634.92,265.3 L635.28,265.3 L635.63,265.3 L635.98,265.3 L636.34,265.3 L636.69,265.3 L637.04,265.3 L637.4,265.3 L637.75,265.3 L638.1,265.3 L638.46,265.3 L638.81,265.3 L639.16,265.3 L639.52,265.3 L639.87,265.3 L640.22,265.3 L640.58,265.3 L640.93,265.3 L641.28,265.3 L641.64,265.3 L641.99,265.3 L642.34,265.3 L642.7,265.3 L643.05,265.3 L643.4,265.3 L643.76,265.3 L644.11,265.3" stroke="#d4d42a" stroke-width="1.6"/>
<path d="M396.8,264.8H644.11" stroke="#999900" stroke-width="1.4"/>
<path d="M396.8,264.8H644.11" stroke="#7f7f22" stroke-width="1.4"/>
</g>
<g fill="#000" stroke="#000" stroke-width="1"><line x1="399.27" y1="234.08" x2="399.27" y2="236.76"/><circle cx="399.27" cy="235.42" r="1.8" stroke="none"/><line x1="404.22" y1="230.6" x2="404.22" y2="233.42"/><circle cx="404.22" cy="232.01" r="1.8" stroke="none"/><line x1="409.17" y1="234.57" x2="409.17" y2="237.22"/><circle cx="409.17" cy="235.9" r="1.8" stroke="none"/><line x1="414.11" y1="236.04" x2="414.11" y2="238.62"/><circle cx="414.11" cy="237.33" r="1.8" stroke="none"/><line x1="419.06" y1="241.36" x2="419.06" y2="243.7"/><circle cx="419.06" cy="242.53" r="1.8" stroke="none"/><line x1="424" y1="243.69" x2="424" y2="245.91"/><circle cx="424" cy="244.8" r="1.8" stroke="none"/><line x1="428.95" y1="245.35" x2="428.95" y2="247.48"/><circle cx="428.95" cy="246.42" r="1.8" stroke="none"/><circle cx="433.9" cy="251.55" r="1.8" stroke="none"/><circle cx="438.84" cy="252.87" r="1.8" stroke="none"/><circle cx="443.79" cy="252.09" r="1.8" stroke="none"/><circle cx="448.74" cy="254.42" r="1.8" stroke="none"/><circle cx="453.68" cy="251.79" r="1.8" stroke="none"/><line x1="458.63" y1="241.24" x2="458.63" y2="243.58"/><circle cx="458.63" cy="242.41" r="1.8" stroke="none"/><line x1="463.57" y1="220.73" x2="463.57" y2="223.93"/><circle cx="463.57" cy="222.33" r="1.8" stroke="none"/><line x1="468.52" y1="158.09" x2="468.52" y2="163.1"/><circle cx="468.52" cy="160.6" r="1.8" stroke="none"/><line x1="473.47" y1="90.7" x2="473.47" y2="97.1"/><circle cx="473.47" cy="93.9" r="1.8" stroke="none"/><line x1="478.41" y1="106.57" x2="478.41" y2="112.67"/><circle cx="478.41" cy="109.62" r="1.8" stroke="none"/><line x1="483.36" y1="174.55" x2="483.36" y2="179.15"/><circle cx="483.36" cy="176.85" r="1.8" stroke="none"/><line x1="488.3" y1="218.84" x2="488.3" y2="222.11"/><circle cx="488.3" cy="220.48" r="1.8" stroke="none"/><line x1="493.25" y1="236.04" x2="493.25" y2="238.62"/><circle cx="493.25" cy="237.33" r="1.8" stroke="none"/><line x1="498.2" y1="246.89" x2="498.2" y2="248.93"/><circle cx="498.2" cy="247.91" r="1.8" stroke="none"/><circle cx="503.14" cy="255.38" r="1.8" stroke="none"/><circle cx="508.09" cy="259.5" r="1.8" stroke="none"/><circle cx="513.04" cy="260.76" r="1.8" stroke="none"/><circle cx="517.98" cy="262.01" r="1.8" stroke="none"/><circle cx="522.93" cy="261.42" r="1.8" stroke="none"/><circle cx="527.87" cy="261.42" r="1.8" stroke="none"/><circle cx="532.82" cy="262.37" r="1.8" stroke="none"/><circle cx="537.77" cy="262.37" r="1.8" stroke="none"/><circle cx="542.71" cy="262.01" r="1.8" stroke="none"/><circle cx="547.66" cy="263.51" r="1.8" stroke="none"/><circle cx="552.61" cy="263.81" r="1.8" stroke="none"/><circle cx="557.55" cy="264.1" r="1.8" stroke="none"/><circle cx="562.5" cy="264.22" r="1.8" stroke="none"/><circle cx="567.44" cy="263.99" r="1.8" stroke="none"/><circle cx="572.39" cy="264.4" r="1.8" stroke="none"/><circle cx="577.34" cy="264.52" r="1.8" stroke="none"/><circle cx="582.28" cy="264.1" r="1.8" stroke="none"/><circle cx="587.23" cy="264.22" r="1.8" stroke="none"/><circle cx="592.17" cy="264.4" r="1.8" stroke="none"/><circle cx="597.12" cy="264.1" r="1.8" stroke="none"/><circle cx="602.07" cy="264.46" r="1.8" stroke="none"/><circle cx="607.01" cy="264.22" r="1.8" stroke="none"/><circle cx="611.96" cy="264.52" r="1.8" stroke="none"/><circle cx="616.91" cy="264.1" r="1.8" stroke="none"/><circle cx="621.85" cy="264.4" r="1.8" stroke="none"/><circle cx="626.8" cy="264.28" r="1.8" stroke="none"/><circle cx="631.74" cy="264.46" r="1.8" stroke="none"/><circle cx="636.69" cy="264.16" r="1.8" stroke="none"/><circle cx="641.64" cy="264.4" r="1.8" stroke="none"/></g>
<path d="M396.8,265.3h7.5M644.11,265.3h-7.5M396.8,259.32h4M644.11,259.32h-4M396.8,253.35h4M644.11,253.35h-4M396.8,247.37h4M644.11,247.37h-4M396.8,241.4h4M644.11,241.4h-4M396.8,235.42h7.5M644.11,235.42h-7.5M396.8,229.44h4M644.11,229.44h-4M396.8,223.47h4M644.11,223.47h-4M396.8,217.49h4M644.11,217.49h-4M396.8,211.51h4M644.11,211.51h-4M396.8,205.54h7.5M644.11,205.54h-7.5M396.8,199.56h4M644.11,199.56h-4M396.8,193.59h4M644.11,193.59h-4M396.8,187.61h4M644.11,187.61h-4M396.8,181.63h4M644.11,181.63h-4M396.8,175.66h7.5M644.11,175.66h-7.5M396.8,169.68h4M644.11,169.68h-4M396.8,163.7h4M644.11,163.7h-4M396.8,157.73h4M644.11,157.73h-4M396.8,151.75h4M644.11,151.75h-4M396.8,145.78h7.5M644.11,145.78h-7.5M396.8,139.8h4M644.11,139.8h-4M396.8,133.82h4M644.11,133.82h-4M396.8,127.85h4M644.11,127.85h-4M396.8,121.87h4M644.11,121.87h-4M396.8,115.89h7.5M644.11,115.89h-7.5M396.8,109.92h4M644.11,109.92h-4M396.8,103.94h4M644.11,103.94h-4M396.8,97.97h4M644.11,97.97h-4M396.8,91.99h4M644.11,91.99h-4M396.8,86.01h7.5M644.11,86.01h-7.5M396.8,80.04h4M644.11,80.04h-4M396.8,74.06h4M644.11,74.06h-4M396.8,68.08h4M644.11,68.08h-4M396.8,62.11h4M644.11,62.11h-4M396.8,56.13h7.5M644.11,56.13h-7.5M396.8,50.16h4M644.11,50.16h-4M396.8,44.18h4M644.11,44.18h-4M396.8,38.2h4M644.11,38.2h-4M396.8,32.23h4M644.11,32.23h-4M396.8,26.25h7.5M644.11,26.25h-7.5M396.8,265.3v-7M396.8,26.25v7M414.46,265.3v-3.5M414.46,26.25v3.5M432.13,265.3v-3.5M432.13,26.25v3.5M449.8,265.3v-3.5M449.8,26.25v3.5M467.46,265.3v-7M467.46,26.25v7M485.12,265.3v-3.5M485.12,26.25v3.5M502.79,265.3v-3.5M502.79,26.25v3.5M520.45,265.3v-3.5M520.45,26.25v3.5M538.12,265.3v-7M538.12,26.25v7M555.79,265.3v-3.5M555.79,26.25v3.5M573.45,265.3v-3.5M573.45,26.25v3.5M591.11,265.3v-3.5M591.11,26.25v3.5M608.78,265.3v-7M608.78,26.25v7M626.45,265.3v-3.5M626.45,26.25v3.5M644.11,265.3v-3.5M644.11,26.25v3.5" stroke="#000" stroke-width="1.2" fill="none"/>
<rect x="396.8" y="26.25" width="247.31" height="239.05" stroke="#000" stroke-width="1.4" fill="none"/>
<g font-size="15" fill="#000"><text x="394" y="270.9" text-anchor="end">0</text><text x="394" y="241.02" text-anchor="end">500</text><text x="394" y="211.14" text-anchor="end">1000</text><text x="394" y="181.26" text-anchor="end">1500</text><text x="394" y="151.38" text-anchor="end">2000</text><text x="394" y="121.49" text-anchor="end">2500</text><text x="394" y="91.61" text-anchor="end">3000</text><text x="394" y="61.73" text-anchor="end">3500</text><text x="394" y="31.85" text-anchor="end">4000</text><text x="397.2" y="281.3" text-anchor="middle">5.4</text><text x="467.86" y="281.3" text-anchor="middle">5.6</text><text x="538.52" y="281.3" text-anchor="middle">5.8</text><text x="609.18" y="281.3" text-anchor="middle">6</text></g>
<g font-size="11.8" fill="#000"><g stroke="#000" stroke-width="1.1"><path d="M173.4,58.45V69.75M170.8,58.45H176M170.8,69.75H176"/></g><circle cx="173.4" cy="64.25" r="2" fill="#000"/>
<path d="M160.2,82.75H186.5" stroke="#0000ff" stroke-width="1.75"/>
<path d="M160.2,101.25H186.5" stroke="#ff0000" stroke-width="1.6" stroke-dasharray="1.8 1.76"/>
<path d="M160.2,119.75H186.5" stroke="#a81a20" stroke-width="1.6"/>
<path d="M160.2,138.25H186.5" stroke="#00a000" stroke-width="1.6" stroke-dasharray="1.8 1.76"/>
<path d="M160.2,156.75H186.5" stroke="#20d0d0" stroke-width="1.6"/>
<path d="M160.2,175.25H186.5" stroke="#009a9a" stroke-width="1.6"/>
<path d="M160.2,193.75H186.5" stroke="#d4d42a" stroke-width="1.6"/>
<path d="M160.2,212.25H186.5" stroke="#999900" stroke-width="1.6"/>
<path d="M160.2,230.75H186.5" stroke="#7f7f22" stroke-width="1.6"/>
<text x="191.4" y="67.75" font-size="12.7">Data</text>
<text x="191.1" y="86.9" font-size="12.5">Total fit</text>
<text x="191.5" y="141.8" font-size="12.1">Comb. bkg.</text>
<text transform="translate(192.27,105.8) scale(0.95,1)" font-size="11.8" font-style="italic">Λ</text>
<text x="199.89" y="99.8" font-size="8" font-style="italic">0</text>
<text x="199.9" y="108.6" font-size="8" font-style="italic">b</text>
<path d="M208.3,101.4H216.62" stroke="#000" stroke-width="0.9"/><path d="M218.9,101.4L215.1,99.5L216.24,101.4L215.1,103.3z" fill="#000"/>
<text transform="translate(223,105.8) scale(1.01,1)" font-size="11.8" font-style="italic">p</text>
<text transform="translate(227.77,105.8) scale(1.21,1)" font-size="11.8" font-style="italic">K</text>
<text x="239.6" y="101.86" font-size="8">−</text>
<text stroke="#000" stroke-width="0.15" transform="translate(243.83,105.8) scale(1.14,1)" font-size="11.8" font-style="italic">π</text>
<text x="250.2" y="101.86" font-size="8">+</text>
<text stroke="#000" stroke-width="0.15" transform="translate(254.93,105.8) scale(1.14,1)" font-size="11.8" font-style="italic">π</text>
<text x="263.6" y="101.86" font-size="8">−</text>
<text transform="translate(191.18,124.3) scale(1.14,1)" font-size="11.8" font-style="italic">Ξ</text>
<text x="199.89" y="118.3" font-size="8" font-style="italic">0</text>
<text x="199.9" y="127.1" font-size="8" font-style="italic">b</text>
<path d="M208.3,119.9H216.62" stroke="#000" stroke-width="0.9"/><path d="M218.9,119.9L215.1,118L216.24,119.9L215.1,121.8z" fill="#000"/>
<text transform="translate(223,124.3) scale(1.01,1)" font-size="11.8" font-style="italic">p</text>
<text transform="translate(227.77,124.3) scale(1.21,1)" font-size="11.8" font-style="italic">K</text>
<text x="239.6" y="120.36" font-size="8">−</text>
<text stroke="#000" stroke-width="0.15" transform="translate(243.83,124.3) scale(1.14,1)" font-size="11.8" font-style="italic">π</text>
<text x="250.2" y="120.36" font-size="8">+</text>
<text stroke="#000" stroke-width="0.15" transform="translate(254.93,124.3) scale(1.14,1)" font-size="11.8" font-style="italic">π</text>
<text x="263.6" y="120.36" font-size="8">−</text>
<text transform="translate(192.27,161.3) scale(0.95,1)" font-size="11.8" font-style="italic">Λ</text>
<text x="199.89" y="155.3" font-size="8" font-style="italic">0</text>
<text x="199.9" y="164.1" font-size="8" font-style="italic">b</text>
<path d="M208.3,156.9H216.62" stroke="#000" stroke-width="0.9"/><path d="M218.9,156.9L215.1,155L216.24,156.9L215.1,158.8z" fill="#000"/>
<text transform="translate(223,161.3) scale(1.01,1)" font-size="11.8" font-style="italic">p</text>
<text transform="translate(227.77,161.3) scale(1.21,1)" font-size="11.8" font-style="italic">K</text>
<text x="239.6" y="157.36" font-size="8">−</text>
<text stroke="#000" stroke-width="0.15" transform="translate(243.83,161.3) scale(1.14,1)" font-size="11.8" font-style="italic">π</text>
<text x="250.6" y="157.36" font-size="8">+</text>
<text stroke="#000" stroke-width="0.15" transform="translate(254.43,161.3) scale(1.14,1)" font-size="11.8" font-style="italic">π</text>
<text x="262.6" y="157.36" font-size="8">−</text>
<text stroke="#000" stroke-width="0.15" transform="translate(266.93,161.3) scale(1.14,1)" font-size="11.8" font-style="italic">π</text>
<text x="274.69" y="155.9" font-size="8" font-style="italic">0</text>
<text transform="translate(192.27,179.8) scale(0.95,1)" font-size="11.8" font-style="italic">Λ</text>
<text x="199.89" y="173.8" font-size="8" font-style="italic">0</text>
<text x="199.9" y="182.6" font-size="8" font-style="italic">b</text>
<path d="M208.3,175.4H216.62" stroke="#000" stroke-width="0.9"/><path d="M218.9,175.4L215.1,173.5L216.24,175.4L215.1,177.3z" fill="#000"/>
<text transform="translate(223,179.8) scale(1.01,1)" font-size="11.8" font-style="italic">p</text>
<text transform="translate(227.77,179.8) scale(1.21,1)" font-size="11.8" font-style="italic">K</text>
<text x="239.6" y="175.86" font-size="8">−</text>
<text x="243.08" y="179.8" font-size="11.8" font-style="italic">η</text>
<text x="249.62" y="179.8" font-size="11.8">′</text>
<text x="254.48" y="179.8" font-size="11.8">(</text>
<path d="M259,175.4H267.22" stroke="#000" stroke-width="0.9"/><path d="M269.5,175.4L265.7,173.5L266.84,175.4L265.7,177.3z" fill="#000"/>
<text stroke="#000" stroke-width="0.15" transform="translate(270.93,179.8) scale(1.14,1)" font-size="11.8" font-style="italic">π</text>
<text x="278.6" y="175.86" font-size="8">−</text>
<text stroke="#000" stroke-width="0.15" transform="translate(282.43,179.8) scale(1.14,1)" font-size="11.8" font-style="italic">π</text>
<text x="291.6" y="175.86" font-size="8">+</text>
<text x="294.79" y="179.8" font-size="11.8" font-style="italic">γ</text>
<text x="302.62" y="179.8" font-size="11.8">)</text>
<text transform="translate(192.27,198.3) scale(0.95,1)" font-size="11.8" font-style="italic">Λ</text>
<text x="199.89" y="192.3" font-size="8" font-style="italic">0</text>
<text x="199.9" y="201.1" font-size="8" font-style="italic">b</text>
<path d="M208.3,193.9H216.62" stroke="#000" stroke-width="0.9"/><path d="M218.9,193.9L215.1,192L216.24,193.9L215.1,195.8z" fill="#000"/>
<text transform="translate(223,198.3) scale(1.01,1)" font-size="11.8" font-style="italic">p</text>
<text stroke="#000" stroke-width="0.15" transform="translate(228.93,198.3) scale(1.14,1)" font-size="11.8" font-style="italic">π</text>
<text x="235.6" y="194.36" font-size="8">−</text>
<text stroke="#000" stroke-width="0.15" transform="translate(239.93,198.3) scale(1.14,1)" font-size="11.8" font-style="italic">π</text>
<text x="247.6" y="194.36" font-size="8">+</text>
<text stroke="#000" stroke-width="0.15" transform="translate(251.93,198.3) scale(1.14,1)" font-size="11.8" font-style="italic">π</text>
<text x="259.6" y="194.36" font-size="8">−</text>
<text transform="translate(192.27,216.8) scale(0.95,1)" font-size="11.8" font-style="italic">Λ</text>
<text x="199.89" y="210.8" font-size="8" font-style="italic">0</text>
<text x="199.9" y="219.6" font-size="8" font-style="italic">b</text>
<path d="M208.3,212.4H216.62" stroke="#000" stroke-width="0.9"/><path d="M218.9,212.4L215.1,210.5L216.24,212.4L215.1,214.3z" fill="#000"/>
<text transform="translate(223,216.8) scale(1.01,1)" font-size="11.8" font-style="italic">p</text>
<text transform="translate(227.77,216.8) scale(1.21,1)" font-size="11.8" font-style="italic">K</text>
<text x="239.6" y="212.86" font-size="8">−</text>
<text transform="translate(243.17,216.8) scale(1.21,1)" font-size="11.8" font-style="italic">K</text>
<text x="252.6" y="212.86" font-size="8">+</text>
<text stroke="#000" stroke-width="0.15" transform="translate(256.93,216.8) scale(1.14,1)" font-size="11.8" font-style="italic">π</text>
<text x="263.6" y="212.86" font-size="8">−</text>
<text transform="translate(191.18,235.3) scale(1.14,1)" font-size="11.8" font-style="italic">Ξ</text>
<text x="199.89" y="229.3" font-size="8" font-style="italic">0</text>
<text x="199.9" y="238.1" font-size="8" font-style="italic">b</text>
<path d="M208.3,230.9H216.62" stroke="#000" stroke-width="0.9"/><path d="M218.9,230.9L215.1,229L216.24,230.9L215.1,232.8z" fill="#000"/>
<text transform="translate(223,235.3) scale(1.01,1)" font-size="11.8" font-style="italic">p</text>
<text transform="translate(227.77,235.3) scale(1.21,1)" font-size="11.8" font-style="italic">K</text>
<text x="239.6" y="231.36" font-size="8">−</text>
<text stroke="#000" stroke-width="0.15" transform="translate(243.43,235.3) scale(1.14,1)" font-size="11.8" font-style="italic">π</text>
<text x="250.6" y="231.36" font-size="8">+</text>
<text transform="translate(254.17,235.3) scale(1.21,1)" font-size="11.8" font-style="italic">K</text>
<text x="264.6" y="231.36" font-size="8">−</text></g>
<g font-size="11.8" fill="#000"><g stroke="#000" stroke-width="1.1"><path d="M504.6,58.45V69.75M502,58.45H507.2M502,69.75H507.2"/></g><circle cx="504.6" cy="64.25" r="2" fill="#000"/>
<path d="M491.4,82.75H517.7" stroke="#0000ff" stroke-width="1.75"/>
<path d="M491.4,101.25H517.7" stroke="#ff0000" stroke-width="1.6" stroke-dasharray="1.8 1.76"/>
<path d="M491.4,119.75H517.7" stroke="#a81a20" stroke-width="1.6"/>
<path d="M491.4,138.25H517.7" stroke="#00a000" stroke-width="1.6" stroke-dasharray="1.8 1.76"/>
<path d="M491.4,156.75H517.7" stroke="#20d0d0" stroke-width="1.6"/>
<path d="M491.4,175.25H517.7" stroke="#009a9a" stroke-width="1.6"/>
<path d="M491.4,193.75H517.7" stroke="#d4d42a" stroke-width="1.6"/>
<path d="M491.4,212.25H517.7" stroke="#999900" stroke-width="1.6"/>
<path d="M491.4,230.75H517.7" stroke="#7f7f22" stroke-width="1.6"/>
<text x="522.6" y="67.75" font-size="12.7">Data</text>
<text x="522.3" y="86.9" font-size="12.5">Total fit</text>
<text x="522.7" y="141.8" font-size="12.1">Comb. bkg.</text>
<text transform="translate(523.47,105.8) scale(0.95,1)" font-size="11.8" font-style="italic">Λ</text>
<path d="M522.6,95.75H530.7" stroke="#000" stroke-width="1"/>
<text x="531.44" y="97.2" font-size="8" font-style="italic">0</text>
<text x="531.45" y="108.6" font-size="8" font-style="italic">b</text>
<path d="M539.9,101.8H547.62" stroke="#000" stroke-width="0.9"/><path d="M549.9,101.8L546.1,99.9L547.24,101.8L546.1,103.7z" fill="#000"/>
<text transform="translate(554.6,105.8) scale(1.01,1)" font-size="11.8" font-style="italic">p</text>
<path d="M554.7,97.7H560.3" stroke="#000" stroke-width="0.9"/>
<text transform="translate(560.07,105.8) scale(1.21,1)" font-size="11.8" font-style="italic">K</text>
<text x="569.6" y="101.86" font-size="8">+</text>
<text stroke="#000" stroke-width="0.15" transform="translate(575.43,105.8) scale(1.14,1)" font-size="11.8" font-style="italic">π</text>
<text x="582.6" y="101.86" font-size="8">−</text>
<text stroke="#000" stroke-width="0.15" transform="translate(586.93,105.8) scale(1.14,1)" font-size="11.8" font-style="italic">π</text>
<text x="594.6" y="101.86" font-size="8">+</text>
<text transform="translate(522.38,124.3) scale(1.14,1)" font-size="11.8" font-style="italic">Ξ</text>
<path d="M522.4,114.5H531.2" stroke="#000" stroke-width="1"/>
<text x="531.44" y="115.7" font-size="8" font-style="italic">0</text>
<text x="531.45" y="127.1" font-size="8" font-style="italic">b</text>
<path d="M539.9,120.3H547.62" stroke="#000" stroke-width="0.9"/><path d="M549.9,120.3L546.1,118.4L547.24,120.3L546.1,122.2z" fill="#000"/>
<text transform="translate(554.6,124.3) scale(1.01,1)" font-size="11.8" font-style="italic">p</text>
<path d="M554.7,116.2H560.3" stroke="#000" stroke-width="0.9"/>
<text transform="translate(560.07,124.3) scale(1.21,1)" font-size="11.8" font-style="italic">K</text>
<text x="569.6" y="120.36" font-size="8">+</text>
<text stroke="#000" stroke-width="0.15" transform="translate(575.43,124.3) scale(1.14,1)" font-size="11.8" font-style="italic">π</text>
<text x="582.6" y="120.36" font-size="8">−</text>
<text stroke="#000" stroke-width="0.15" transform="translate(586.93,124.3) scale(1.14,1)" font-size="11.8" font-style="italic">π</text>
<text x="594.6" y="120.36" font-size="8">+</text>
<text transform="translate(523.47,161.3) scale(0.95,1)" font-size="11.8" font-style="italic">Λ</text>
<path d="M522.6,151.25H530.7" stroke="#000" stroke-width="1"/>
<text x="531.44" y="152.7" font-size="8" font-style="italic">0</text>
<text x="531.45" y="164.1" font-size="8" font-style="italic">b</text>
<path d="M539.9,157.3H547.62" stroke="#000" stroke-width="0.9"/><path d="M549.9,157.3L546.1,155.4L547.24,157.3L546.1,159.2z" fill="#000"/>
<text transform="translate(554.7,161.3) scale(1.01,1)" font-size="11.8" font-style="italic">p</text>
<path d="M554.8,153.2H560.4" stroke="#000" stroke-width="0.9"/>
<text transform="translate(560.17,161.3) scale(1.21,1)" font-size="11.8" font-style="italic">K</text>
<text x="570.6" y="157.36" font-size="8">+</text>
<text stroke="#000" stroke-width="0.15" transform="translate(575.93,161.3) scale(1.14,1)" font-size="11.8" font-style="italic">π</text>
<text x="582.6" y="157.36" font-size="8">−</text>
<text stroke="#000" stroke-width="0.15" transform="translate(586.93,161.3) scale(1.14,1)" font-size="11.8" font-style="italic">π</text>
<text x="594.6" y="157.36" font-size="8">+</text>
<text stroke="#000" stroke-width="0.15" transform="translate(598.93,161.3) scale(1.14,1)" font-size="11.8" font-style="italic">π</text>
<text x="606.69" y="155.9" font-size="8" font-style="italic">0</text>
<text transform="translate(523.47,179.8) scale(0.95,1)" font-size="11.8" font-style="italic">Λ</text>
<path d="M522.6,169.75H530.7" stroke="#000" stroke-width="1"/>
<text x="531.44" y="171.2" font-size="8" font-style="italic">0</text>
<text x="531.45" y="182.6" font-size="8" font-style="italic">b</text>
<path d="M539.9,175.8H547.62" stroke="#000" stroke-width="0.9"/><path d="M549.9,175.8L546.1,173.9L547.24,175.8L546.1,177.7z" fill="#000"/>
<text transform="translate(554.7,179.8) scale(1.01,1)" font-size="11.8" font-style="italic">p</text>
<path d="M554.8,171.7H560.4" stroke="#000" stroke-width="0.9"/>
<text transform="translate(560.17,179.8) scale(1.21,1)" font-size="11.8" font-style="italic">K</text>
<text x="570.6" y="175.86" font-size="8">+</text>
<text x="575.58" y="179.8" font-size="11.8" font-style="italic">η</text>
<text x="582.62" y="179.8" font-size="11.8">′</text>
<text x="586.48" y="179.8" font-size="11.8">(</text>
<path d="M591,175.4H599.72" stroke="#000" stroke-width="0.9"/><path d="M602,175.4L598.2,173.5L599.34,175.4L598.2,177.3z" fill="#000"/>
<text stroke="#000" stroke-width="0.15" transform="translate(601.93,179.8) scale(1.14,1)" font-size="11.8" font-style="italic">π</text>
<text x="609.6" y="175.86" font-size="8">−</text>
<text stroke="#000" stroke-width="0.15" transform="translate(613.93,179.8) scale(1.14,1)" font-size="11.8" font-style="italic">π</text>
<text x="622.6" y="175.86" font-size="8">+</text>
<text x="626.79" y="179.8" font-size="11.8" font-style="italic">γ</text>
<text x="634.62" y="179.8" font-size="11.8">)</text>
<text transform="translate(523.47,198.3) scale(0.95,1)" font-size="11.8" font-style="italic">Λ</text>
<path d="M522.6,188.25H530.7" stroke="#000" stroke-width="1"/>
<text x="531.44" y="189.7" font-size="8" font-style="italic">0</text>
<text x="531.45" y="201.1" font-size="8" font-style="italic">b</text>
<path d="M539.9,194.3H547.62" stroke="#000" stroke-width="0.9"/><path d="M549.9,194.3L546.1,192.4L547.24,194.3L546.1,196.2z" fill="#000"/>
<text transform="translate(554.6,198.3) scale(1.01,1)" font-size="11.8" font-style="italic">p</text>
<path d="M554.7,190.2H560.3" stroke="#000" stroke-width="0.9"/>
<text stroke="#000" stroke-width="0.15" transform="translate(559.93,198.3) scale(1.14,1)" font-size="11.8" font-style="italic">π</text>
<text x="567.2" y="194.36" font-size="8">+</text>
<text stroke="#000" stroke-width="0.15" transform="translate(571.93,198.3) scale(1.14,1)" font-size="11.8" font-style="italic">π</text>
<text x="579.2" y="194.36" font-size="8">−</text>
<text stroke="#000" stroke-width="0.15" transform="translate(583.93,198.3) scale(1.14,1)" font-size="11.8" font-style="italic">π</text>
<text x="591.2" y="194.36" font-size="8">+</text>
<text transform="translate(523.47,216.8) scale(0.95,1)" font-size="11.8" font-style="italic">Λ</text>
<path d="M522.6,206.75H530.7" stroke="#000" stroke-width="1"/>
<text x="531.44" y="208.2" font-size="8" font-style="italic">0</text>
<text x="531.45" y="219.6" font-size="8" font-style="italic">b</text>
<path d="M539.9,212.8H547.62" stroke="#000" stroke-width="0.9"/><path d="M549.9,212.8L546.1,210.9L547.24,212.8L546.1,214.7z" fill="#000"/>
<text transform="translate(554.6,216.8) scale(1.01,1)" font-size="11.8" font-style="italic">p</text>
<path d="M554.7,208.7H560.3" stroke="#000" stroke-width="0.9"/>
<text transform="translate(560.17,216.8) scale(1.21,1)" font-size="11.8" font-style="italic">K</text>
<text x="569.6" y="212.86" font-size="8">+</text>
<text transform="translate(575.17,216.8) scale(1.21,1)" font-size="11.8" font-style="italic">K</text>
<text x="585.2" y="212.86" font-size="8">−</text>
<text stroke="#000" stroke-width="0.15" transform="translate(588.93,216.8) scale(1.14,1)" font-size="11.8" font-style="italic">π</text>
<text x="596.6" y="212.86" font-size="8">+</text>
<text transform="translate(522.38,235.3) scale(1.14,1)" font-size="11.8" font-style="italic">Ξ</text>
<path d="M522.4,225.5H531.2" stroke="#000" stroke-width="1"/>
<text x="531.44" y="226.7" font-size="8" font-style="italic">0</text>
<text x="531.45" y="238.1" font-size="8" font-style="italic">b</text>
<path d="M539.9,231.3H547.62" stroke="#000" stroke-width="0.9"/><path d="M549.9,231.3L546.1,229.4L547.24,231.3L546.1,233.2z" fill="#000"/>
<text transform="translate(554.6,235.3) scale(1.01,1)" font-size="11.8" font-style="italic">p</text>
<path d="M554.7,227.2H560.3" stroke="#000" stroke-width="0.9"/>
<text transform="translate(560.17,235.3) scale(1.21,1)" font-size="11.8" font-style="italic">K</text>
<text x="569.6" y="231.36" font-size="8">+</text>
<text stroke="#000" stroke-width="0.15" transform="translate(575.93,235.3) scale(1.14,1)" font-size="11.8" font-style="italic">π</text>
<text x="582.6" y="231.36" font-size="8">−</text>
<text transform="translate(586.67,235.3) scale(1.21,1)" font-size="11.8" font-style="italic">K</text>
<text x="596.6" y="231.36" font-size="8">+</text></g>
<text x="158.6" y="51.5" font-size="17.5">LHCb 9 fb</text>
<path d="M235.5,41.4H240" stroke="#000" stroke-width="1.05"/>
<text x="240.79" y="45.9" font-size="11.5">1</text>
<text transform="translate(19.6,226.9) rotate(-90)" font-size="17.65">Candidates / (0.014 GeV<tspan dx="0.6">/</tspan><tspan dx="0.8" font-style="italic">c</tspan><tspan font-size="9.6" dx="0.6" dy="-5.6">2</tspan><tspan dx="0.8" dy="5.6">)</tspan></text>
<g fill="#000"><text transform="translate(154.26,300.6) scale(1.21,1)" font-size="17" font-style="italic">m</text>
<text x="167.85" y="300.6" font-size="17">(</text>
<text x="172.3" y="300.6" font-size="17" font-style="italic">p</text>
<text transform="translate(179.22,300.6) scale(1.12,1)" font-size="17" font-style="italic">K</text>
<text transform="translate(194.58,294.58) scale(1.38,1)" font-size="12">−</text>
<text transform="translate(203.89,300.6) scale(1.19,1)" font-size="17" font-style="italic">π</text>
<text transform="translate(214.36,296.88) scale(1.07,1)" font-size="12">+</text>
<text transform="translate(222.09,300.6) scale(1.17,1)" font-size="17" font-style="italic">π</text>
<text transform="translate(231.5,295.28) scale(1.16,1)" font-size="12">−</text>
<text x="239.45" y="300.6" font-size="17">)</text>
<text x="250.14" y="300.6" font-size="17">[</text>
<text x="256.2" y="300.6" font-size="17">G</text>
<text x="267.94" y="300.6" font-size="17">e</text>
<text x="276.71" y="300.6" font-size="17">V</text>
<text x="289" y="300.6" font-size="17">/</text>
<text x="295.48" y="300.6" font-size="17" font-style="italic">c</text>
<text x="303.76" y="294.2" font-size="10">2</text>
<text x="308.59" y="300.6" font-size="17">]</text></g>
<text x="489.8" y="51.5" font-size="17.5">LHCb 9 fb</text>
<path d="M566.7,41.4H571.2" stroke="#000" stroke-width="1.05"/>
<text x="571.99" y="45.9" font-size="11.5">1</text>
<text transform="translate(350.8,226.9) rotate(-90)" font-size="17.65">Candidates / (0.014 GeV<tspan dx="0.6">/</tspan><tspan dx="0.8" font-style="italic">c</tspan><tspan font-size="9.6" dx="0.6" dy="-5.6">2</tspan><tspan dx="0.8" dy="5.6">)</tspan></text>
<g fill="#000"><text transform="translate(485.21,300.6) scale(1.12,1)" font-size="17" font-style="italic">m</text>
<text x="497.85" y="300.6" font-size="17">(</text>
<text x="504.6" y="300.6" font-size="17" font-style="italic">p</text>
<path d="M505,291.5H515" stroke="#000" stroke-width="1.1"/>
<text transform="translate(514.7,300.6) scale(1,1)" font-size="17" font-style="italic">K</text>
<text transform="translate(527.03,295.38) scale(1.13,1)" font-size="12">+</text>
<text transform="translate(535.4,300.6) scale(1.13,1)" font-size="17" font-style="italic">π</text>
<text transform="translate(545.3,296.88) scale(1.16,1)" font-size="12">−</text>
<text transform="translate(552.89,300.6) scale(1.19,1)" font-size="17" font-style="italic">π</text>
<text transform="translate(562.25,297.28) scale(1.25,1)" font-size="12">+</text>
<text x="570.45" y="300.6" font-size="17">)</text>
<text x="581.34" y="300.6" font-size="17">[</text>
<text x="587.4" y="300.6" font-size="17">G</text>
<text x="599.14" y="300.6" font-size="17">e</text>
<text x="607.91" y="300.6" font-size="17">V</text>
<text x="620.2" y="300.6" font-size="17">/</text>
<text x="626.68" y="300.6" font-size="17" font-style="italic">c</text>
<text x="634.96" y="294.2" font-size="10">2</text>
<text x="639.79" y="300.6" font-size="17">]</text></g>
<path d="M143.5,71.65H476.2" stroke="#ff0000" stroke-width="1.85" stroke-dasharray="6.1 3.93"/>
</svg></body></html>
